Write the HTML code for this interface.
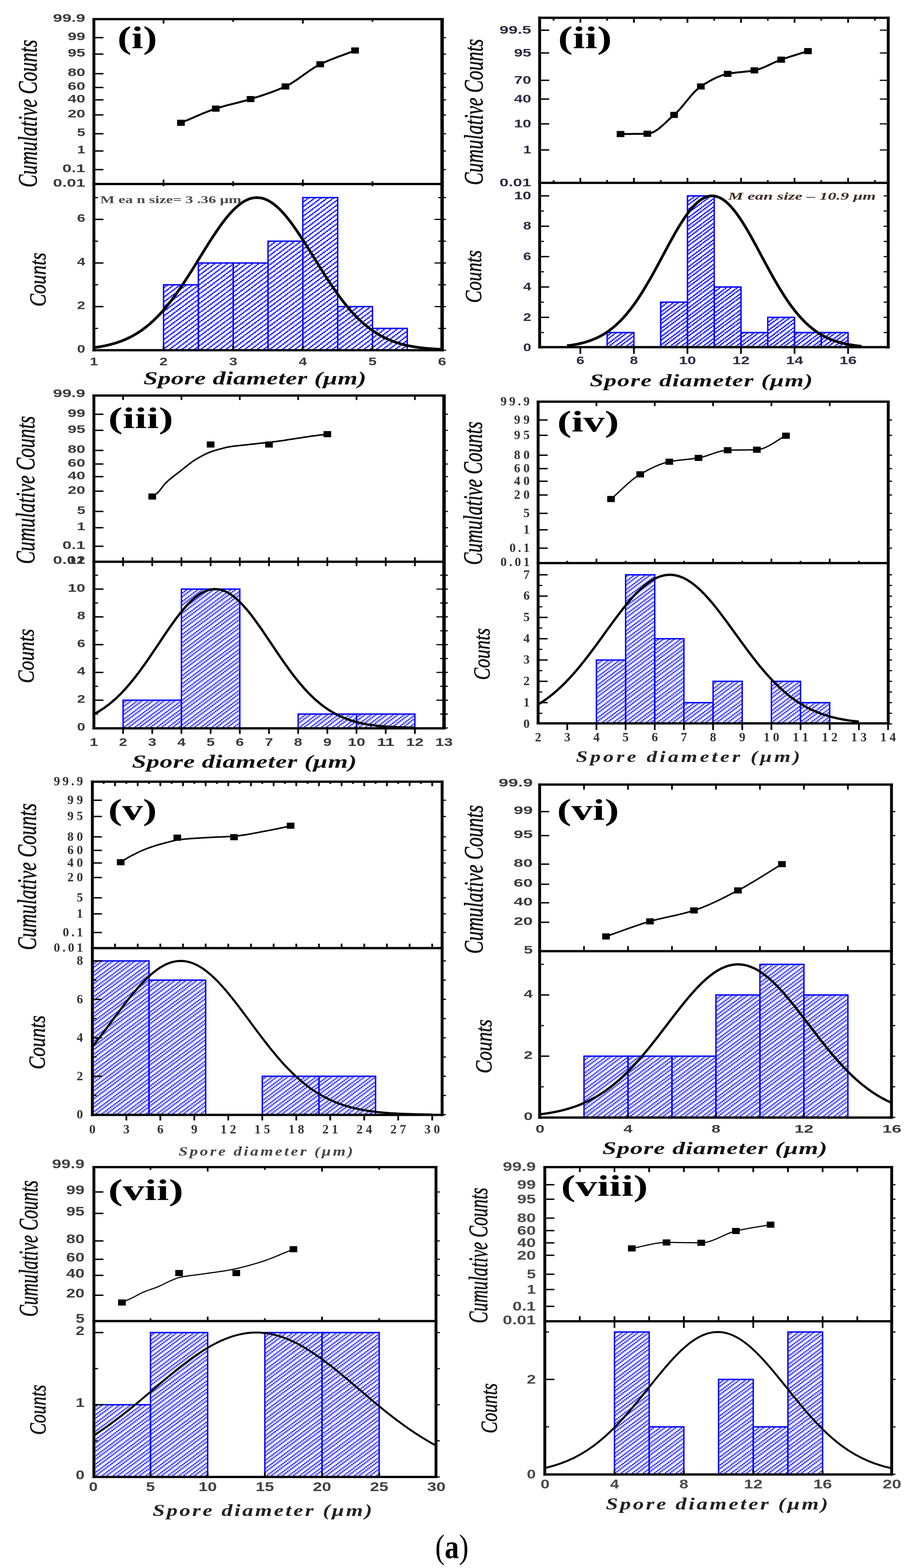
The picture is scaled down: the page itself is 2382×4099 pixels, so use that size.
<!DOCTYPE html>
<html><head><meta charset="utf-8"><title>Spore diameter distributions</title>
<style>html,body{margin:0;padding:0;background:#fff;overflow:hidden;}svg{display:block;}</style>
</head><body>
<svg width="2382" height="4099" viewBox="0 0 2382 4099"><defs><pattern id="hA4" patternUnits="userSpaceOnUse" width="16.4" height="12.3"><rect x="0" y="0" width="5" height="3.4" fill="#0000ff"/><rect x="12.3" y="3.1" width="5" height="3.4" fill="#0000ff"/><rect x="8.2" y="6.1" width="5" height="3.4" fill="#0000ff"/><rect x="4.1" y="9.2" width="5" height="3.4" fill="#0000ff"/></pattern><pattern id="hA3" patternUnits="userSpaceOnUse" width="28.7" height="21.5"><rect x="0" y="0" width="5" height="3.4" fill="#0000ff"/><rect x="12.3" y="0" width="5" height="3.4" fill="#0000ff"/><rect x="8.2" y="3.1" width="5" height="3.4" fill="#0000ff"/><rect x="24.6" y="3.1" width="5" height="3.4" fill="#0000ff"/><rect x="4.1" y="6.1" width="5" height="3.4" fill="#0000ff"/><rect x="20.5" y="6.1" width="5" height="3.4" fill="#0000ff"/><rect x="0" y="9.2" width="5" height="3.4" fill="#0000ff"/><rect x="16.4" y="9.2" width="5" height="3.4" fill="#0000ff"/><rect x="12.3" y="12.3" width="5" height="3.4" fill="#0000ff"/><rect x="24.6" y="12.3" width="5" height="3.4" fill="#0000ff"/><rect x="8.2" y="15.3" width="5" height="3.4" fill="#0000ff"/><rect x="20.5" y="15.3" width="5" height="3.4" fill="#0000ff"/><rect x="4.1" y="18.4" width="5" height="3.4" fill="#0000ff"/><rect x="16.4" y="18.4" width="5" height="3.4" fill="#0000ff"/></pattern><pattern id="hB3" patternUnits="userSpaceOnUse" width="28.7" height="21.5"><rect x="0" y="0" width="4.4" height="3.4" fill="#1414ff"/><rect x="4.1" y="0" width="4.4" height="3.4" fill="#ccccff"/><rect x="16.4" y="0" width="4.4" height="3.4" fill="#1414ff"/><rect x="20.5" y="0" width="4.4" height="3.4" fill="#ccccff"/><rect x="0" y="3.1" width="4.4" height="3.4" fill="#ccccff"/><rect x="12.3" y="3.1" width="4.4" height="3.4" fill="#1414ff"/><rect x="16.4" y="3.1" width="4.4" height="3.4" fill="#ccccff"/><rect x="24.6" y="3.1" width="4.4" height="3.4" fill="#1414ff"/><rect x="8.2" y="6.1" width="4.4" height="3.4" fill="#1414ff"/><rect x="12.3" y="6.1" width="4.4" height="3.4" fill="#ccccff"/><rect x="20.5" y="6.1" width="4.4" height="3.4" fill="#1414ff"/><rect x="24.6" y="6.1" width="4.4" height="3.4" fill="#ccccff"/><rect x="4.1" y="9.2" width="4.4" height="3.4" fill="#1414ff"/><rect x="8.2" y="9.2" width="4.4" height="3.4" fill="#ccccff"/><rect x="16.4" y="9.2" width="4.4" height="3.4" fill="#1414ff"/><rect x="20.5" y="9.2" width="4.4" height="3.4" fill="#ccccff"/><rect x="0" y="12.3" width="4.4" height="3.4" fill="#1414ff"/><rect x="4.1" y="12.3" width="4.4" height="3.4" fill="#ccccff"/><rect x="12.3" y="12.3" width="4.4" height="3.4" fill="#1414ff"/><rect x="16.4" y="12.3" width="4.4" height="3.4" fill="#ccccff"/><rect x="0" y="15.3" width="4.4" height="3.4" fill="#ccccff"/><rect x="8.2" y="15.3" width="4.4" height="3.4" fill="#1414ff"/><rect x="12.3" y="15.3" width="4.4" height="3.4" fill="#ccccff"/><rect x="24.6" y="15.3" width="4.4" height="3.4" fill="#1414ff"/><rect x="4.1" y="18.4" width="4.4" height="3.4" fill="#1414ff"/><rect x="8.2" y="18.4" width="4.4" height="3.4" fill="#ccccff"/><rect x="20.5" y="18.4" width="4.4" height="3.4" fill="#1414ff"/><rect x="24.6" y="18.4" width="4.4" height="3.4" fill="#ccccff"/></pattern><pattern id="hB7" patternUnits="userSpaceOnUse" width="12.3" height="18.4"><rect x="0" y="0" width="4.4" height="3.4" fill="#1818ff"/><rect x="4.1" y="0" width="4.4" height="3.4" fill="#c8c8ff"/><rect x="0" y="3.1" width="4.4" height="3.4" fill="#1818ff"/><rect x="8.2" y="3.1" width="4.4" height="3.4" fill="#1818ff"/><rect x="4.1" y="6.1" width="4.4" height="3.4" fill="#1818ff"/><rect x="8.2" y="6.1" width="4.4" height="3.4" fill="#c8c8ff"/><rect x="0" y="9.2" width="4.4" height="3.4" fill="#1818ff"/><rect x="4.1" y="9.2" width="4.4" height="3.4" fill="#c8c8ff"/><rect x="0" y="12.3" width="4.4" height="3.4" fill="#c8c8ff"/><rect x="8.2" y="12.3" width="4.4" height="3.4" fill="#1818ff"/><rect x="4.1" y="15.3" width="4.4" height="3.4" fill="#1818ff"/><rect x="8.2" y="15.3" width="4.4" height="3.4" fill="#c8c8ff"/></pattern></defs><rect width="2382" height="4099" fill="#fff"/><rect x="427.6" y="744.5" width="91" height="171" fill="url(#hA4)"/>
<rect x="518.6" y="687.5" width="91.1" height="228" fill="url(#hA4)"/>
<rect x="609.7" y="687.5" width="91" height="228" fill="url(#hA4)"/>
<rect x="700.8" y="630.5" width="91" height="285" fill="url(#hA4)"/>
<rect x="791.8" y="516.5" width="91.1" height="399" fill="url(#hA4)"/>
<rect x="882.9" y="801.5" width="91" height="114" fill="url(#hA4)"/>
<rect x="973.9" y="858.5" width="91" height="57" fill="url(#hA4)"/>
<rect x="427.6" y="744.5" width="91" height="171" fill="none" stroke="#0000ff" stroke-width="3.6"/>
<rect x="518.6" y="687.5" width="91.1" height="228" fill="none" stroke="#0000ff" stroke-width="3.6"/>
<rect x="609.7" y="687.5" width="91" height="228" fill="none" stroke="#0000ff" stroke-width="3.6"/>
<rect x="700.8" y="630.5" width="91" height="285" fill="none" stroke="#0000ff" stroke-width="3.6"/>
<rect x="791.8" y="516.5" width="91.1" height="399" fill="none" stroke="#0000ff" stroke-width="3.6"/>
<rect x="882.9" y="801.5" width="91" height="114" fill="none" stroke="#0000ff" stroke-width="3.6"/>
<rect x="973.9" y="858.5" width="91" height="57" fill="none" stroke="#0000ff" stroke-width="3.6"/>
<path d="M245.5 908.7 L253.1 907.6 L260.7 906.5 L268.3 905.1 L275.9 903.6 L283.4 901.9 L291 900 L298.6 897.9 L306.2 895.5 L313.8 892.9 L321.4 890 L329 886.8 L336.6 883.3 L344.1 879.5 L351.7 875.3 L359.3 870.7 L366.9 865.8 L374.5 860.4 L382.1 854.6 L389.7 848.4 L397.2 841.7 L404.8 834.6 L412.4 827 L420 819 L427.6 810.5 L435.2 801.6 L442.8 792.2 L450.4 782.4 L458 772.2 L465.5 761.5 L473.1 750.6 L480.7 739.3 L488.3 727.7 L495.9 715.9 L503.5 703.8 L511.1 691.7 L518.6 679.4 L526.2 667.1 L533.8 654.8 L541.4 642.7 L549 630.7 L556.6 618.9 L564.2 607.5 L571.8 596.4 L579.3 585.8 L586.9 575.8 L594.5 566.3 L602.1 557.5 L609.7 549.4 L617.3 542.1 L624.9 535.6 L632.5 530 L640 525.3 L647.6 521.6 L655.2 518.9 L662.8 517.2 L670.4 516.5 L678 516.9 L685.6 518.2 L693.2 520.6 L700.8 524 L708.3 528.4 L715.9 533.7 L723.5 539.9 L731.1 546.9 L738.7 554.8 L746.3 563.4 L753.9 572.7 L761.5 582.6 L769 593 L776.6 603.9 L784.2 615.2 L791.8 626.9 L799.4 638.8 L807 650.9 L814.6 663.2 L822.1 675.5 L829.7 687.7 L837.3 700 L844.9 712 L852.5 723.9 L860.1 735.6 L867.7 747 L875.3 758.1 L882.9 768.8 L890.4 779.2 L898 789.1 L905.6 798.6 L913.2 807.7 L920.8 816.3 L928.4 824.5 L936 832.2 L943.6 839.5 L951.1 846.3 L958.7 852.7 L966.3 858.6 L973.9 864.1 L981.5 869.2 L989.1 873.9 L996.7 878.2 L1004.2 882.1 L1011.8 885.7 L1019.4 889 L1027 892 L1034.6 894.7 L1042.2 897.2 L1049.8 899.3 L1057.4 901.3 L1064.9 903.1 L1072.5 904.6 L1080.1 906 L1087.7 907.3 L1095.3 908.4 L1102.9 909.3 L1110.5 910.2 L1118.1 910.9 L1125.6 911.6 L1133.2 912.1 L1140.8 912.6 L1148.4 913.1 L1156 913.4" fill="none" stroke="#000" stroke-width="7" stroke-linejoin="round"/>
<path d="M473.1 321 L478.8 318.7 L484.5 316.3 L490.2 313.9 L495.9 311.4 L501.6 309 L507.3 306.5 L513 304 L518.6 301.6 L524.3 299.2 L530 296.8 L535.7 294.5 L541.4 292.2 L547.1 290.1 L552.8 287.9 L558.5 285.9 L564.2 284 L569.9 282.2 L575.6 280.5 L581.2 278.8 L586.9 277.2 L592.6 275.7 L598.3 274.2 L604 272.8 L609.7 271.3 L615.4 269.9 L621.1 268.5 L626.8 267 L632.5 265.5 L638.2 264 L643.8 262.4 L649.5 260.7 L655.2 259 L660.9 257.2 L666.6 255.4 L672.3 253.6 L678 251.8 L683.7 250 L689.4 248.1 L695.1 246.2 L700.8 244.2 L706.4 242.2 L712.1 240.1 L717.8 238 L723.5 235.7 L729.2 233.4 L734.9 231.1 L740.6 228.6 L746.3 226 L752 223.2 L757.7 220.1 L763.3 216.7 L769 213.1 L774.7 209.3 L780.4 205.4 L786.1 201.4 L791.8 197.3 L797.5 193.2 L803.2 189.2 L808.9 185.2 L814.6 181.3 L820.3 177.6 L825.9 174.2 L831.6 170.9 L837.3 168 L843 165.3 L848.7 162.7 L854.4 160.2 L860.1 157.8 L865.8 155.5 L871.5 153.3 L877.2 151.1 L882.8 148.9 L888.5 146.8 L894.2 144.8 L899.9 142.7 L905.6 140.6 L911.3 138.5 L917 136.4 L922.7 134.2 L928.4 132" fill="none" stroke="#000" stroke-width="5" stroke-linejoin="round"/>
<rect x="463.1" y="313" width="20" height="16" fill="#000"/>
<rect x="554.2" y="276" width="20" height="16" fill="#000"/>
<rect x="645.2" y="251" width="20" height="16" fill="#000"/>
<rect x="736.3" y="218" width="20" height="16" fill="#000"/>
<rect x="827.3" y="160" width="20" height="16" fill="#000"/>
<rect x="918.4" y="124" width="20" height="16" fill="#000"/>
<text x="223" y="56.5" font-family="'Liberation Sans', Arial, sans-serif" font-size="30" font-weight="bold" font-style="normal" text-anchor="end" fill="#3a3a3a" textLength="84.5" lengthAdjust="spacingAndGlyphs">99.9</text>
<line x1="245.5" y1="98.4" x2="270.5" y2="98.4" stroke="#000" stroke-width="3.6"/>
<line x1="1156" y1="98.4" x2="1166" y2="98.4" stroke="#000" stroke-width="3"/>
<text x="223" y="104.9" font-family="'Liberation Sans', Arial, sans-serif" font-size="30" font-weight="bold" font-style="normal" text-anchor="end" fill="#3a3a3a" textLength="46" lengthAdjust="spacingAndGlyphs">99</text>
<line x1="245.5" y1="141.4" x2="270.5" y2="141.4" stroke="#000" stroke-width="3.6"/>
<line x1="1156" y1="141.4" x2="1166" y2="141.4" stroke="#000" stroke-width="3"/>
<text x="223" y="147.9" font-family="'Liberation Sans', Arial, sans-serif" font-size="30" font-weight="bold" font-style="normal" text-anchor="end" fill="#3a3a3a" textLength="46" lengthAdjust="spacingAndGlyphs">95</text>
<line x1="245.5" y1="192.6" x2="270.5" y2="192.6" stroke="#000" stroke-width="3.6"/>
<line x1="1156" y1="192.6" x2="1166" y2="192.6" stroke="#000" stroke-width="3"/>
<text x="223" y="199.1" font-family="'Liberation Sans', Arial, sans-serif" font-size="30" font-weight="bold" font-style="normal" text-anchor="end" fill="#3a3a3a" textLength="46" lengthAdjust="spacingAndGlyphs">80</text>
<line x1="245.5" y1="228.7" x2="270.5" y2="228.7" stroke="#000" stroke-width="3.6"/>
<line x1="1156" y1="228.7" x2="1166" y2="228.7" stroke="#000" stroke-width="3"/>
<text x="223" y="235.2" font-family="'Liberation Sans', Arial, sans-serif" font-size="30" font-weight="bold" font-style="normal" text-anchor="end" fill="#3a3a3a" textLength="46" lengthAdjust="spacingAndGlyphs">60</text>
<line x1="245.5" y1="261" x2="270.5" y2="261" stroke="#000" stroke-width="3.6"/>
<line x1="1156" y1="261" x2="1166" y2="261" stroke="#000" stroke-width="3"/>
<text x="223" y="267.5" font-family="'Liberation Sans', Arial, sans-serif" font-size="30" font-weight="bold" font-style="normal" text-anchor="end" fill="#3a3a3a" textLength="46" lengthAdjust="spacingAndGlyphs">40</text>
<line x1="245.5" y1="300.4" x2="270.5" y2="300.4" stroke="#000" stroke-width="3.6"/>
<line x1="1156" y1="300.4" x2="1166" y2="300.4" stroke="#000" stroke-width="3"/>
<text x="223" y="306.9" font-family="'Liberation Sans', Arial, sans-serif" font-size="30" font-weight="bold" font-style="normal" text-anchor="end" fill="#3a3a3a" textLength="46" lengthAdjust="spacingAndGlyphs">20</text>
<line x1="245.5" y1="349.6" x2="270.5" y2="349.6" stroke="#000" stroke-width="3.6"/>
<line x1="1156" y1="349.6" x2="1166" y2="349.6" stroke="#000" stroke-width="3"/>
<text x="223" y="356.1" font-family="'Liberation Sans', Arial, sans-serif" font-size="30" font-weight="bold" font-style="normal" text-anchor="end" fill="#3a3a3a" textLength="21.5" lengthAdjust="spacingAndGlyphs">5</text>
<line x1="245.5" y1="394.7" x2="270.5" y2="394.7" stroke="#000" stroke-width="3.6"/>
<line x1="1156" y1="394.7" x2="1166" y2="394.7" stroke="#000" stroke-width="3"/>
<text x="223" y="401.2" font-family="'Liberation Sans', Arial, sans-serif" font-size="30" font-weight="bold" font-style="normal" text-anchor="end" fill="#3a3a3a" textLength="21.5" lengthAdjust="spacingAndGlyphs">1</text>
<line x1="245.5" y1="443.4" x2="270.5" y2="443.4" stroke="#000" stroke-width="3.6"/>
<line x1="1156" y1="443.4" x2="1166" y2="443.4" stroke="#000" stroke-width="3"/>
<text x="223" y="449.9" font-family="'Liberation Sans', Arial, sans-serif" font-size="30" font-weight="bold" font-style="normal" text-anchor="end" fill="#3a3a3a" textLength="60" lengthAdjust="spacingAndGlyphs">0.1</text>
<text x="223" y="487.5" font-family="'Liberation Sans', Arial, sans-serif" font-size="30" font-weight="bold" font-style="normal" text-anchor="end" fill="#3a3a3a" textLength="84.5" lengthAdjust="spacingAndGlyphs">0.01</text>
<line x1="245.5" y1="915.5" x2="256.5" y2="915.5" stroke="#000" stroke-width="3"/>
<line x1="1146" y1="915.5" x2="1166" y2="915.5" stroke="#000" stroke-width="3"/>
<text x="223" y="922" font-family="'Liberation Sans', Arial, sans-serif" font-size="30" font-weight="bold" font-style="normal" text-anchor="end" fill="#3a3a3a" textLength="21.5" lengthAdjust="spacingAndGlyphs">0</text>
<line x1="245.5" y1="858.5" x2="256.5" y2="858.5" stroke="#000" stroke-width="3"/>
<line x1="1146" y1="858.5" x2="1166" y2="858.5" stroke="#000" stroke-width="3"/>
<line x1="245.5" y1="801.5" x2="270.5" y2="801.5" stroke="#000" stroke-width="3.6"/>
<line x1="1136" y1="801.5" x2="1166" y2="801.5" stroke="#000" stroke-width="3"/>
<text x="223" y="808" font-family="'Liberation Sans', Arial, sans-serif" font-size="30" font-weight="bold" font-style="normal" text-anchor="end" fill="#3a3a3a" textLength="21.5" lengthAdjust="spacingAndGlyphs">2</text>
<line x1="245.5" y1="744.5" x2="256.5" y2="744.5" stroke="#000" stroke-width="3"/>
<line x1="1146" y1="744.5" x2="1166" y2="744.5" stroke="#000" stroke-width="3"/>
<line x1="245.5" y1="687.5" x2="270.5" y2="687.5" stroke="#000" stroke-width="3.6"/>
<line x1="1136" y1="687.5" x2="1166" y2="687.5" stroke="#000" stroke-width="3"/>
<text x="223" y="694" font-family="'Liberation Sans', Arial, sans-serif" font-size="30" font-weight="bold" font-style="normal" text-anchor="end" fill="#3a3a3a" textLength="21.5" lengthAdjust="spacingAndGlyphs">4</text>
<line x1="245.5" y1="630.5" x2="256.5" y2="630.5" stroke="#000" stroke-width="3"/>
<line x1="1146" y1="630.5" x2="1166" y2="630.5" stroke="#000" stroke-width="3"/>
<line x1="245.5" y1="573.5" x2="270.5" y2="573.5" stroke="#000" stroke-width="3.6"/>
<line x1="1136" y1="573.5" x2="1166" y2="573.5" stroke="#000" stroke-width="3"/>
<text x="223" y="580" font-family="'Liberation Sans', Arial, sans-serif" font-size="30" font-weight="bold" font-style="normal" text-anchor="end" fill="#3a3a3a" textLength="21.5" lengthAdjust="spacingAndGlyphs">6</text>
<line x1="245.5" y1="516.5" x2="256.5" y2="516.5" stroke="#000" stroke-width="3"/>
<line x1="1146" y1="516.5" x2="1166" y2="516.5" stroke="#000" stroke-width="3"/>
<line x1="427.6" y1="50" x2="427.6" y2="61.6" stroke="#000" stroke-width="4.5"/>
<line x1="609.7" y1="50" x2="609.7" y2="57.2" stroke="#000" stroke-width="4.5"/>
<line x1="791.8" y1="50" x2="791.8" y2="61.6" stroke="#000" stroke-width="4.5"/>
<line x1="973.9" y1="50" x2="973.9" y2="57.2" stroke="#000" stroke-width="4.5"/>
<line x1="427.6" y1="469.4" x2="427.6" y2="486.8" stroke="#000" stroke-width="4.5"/>
<line x1="609.7" y1="473.8" x2="609.7" y2="486.8" stroke="#000" stroke-width="4.5"/>
<line x1="791.8" y1="469.4" x2="791.8" y2="486.8" stroke="#000" stroke-width="4.5"/>
<line x1="973.9" y1="473.8" x2="973.9" y2="486.8" stroke="#000" stroke-width="4.5"/>
<line x1="427.6" y1="903.9" x2="427.6" y2="915.5" stroke="#000" stroke-width="4.5"/>
<line x1="609.7" y1="903.9" x2="609.7" y2="915.5" stroke="#000" stroke-width="4.5"/>
<line x1="791.8" y1="903.9" x2="791.8" y2="915.5" stroke="#000" stroke-width="4.5"/>
<line x1="973.9" y1="903.9" x2="973.9" y2="915.5" stroke="#000" stroke-width="4.5"/>
<text x="245.5" y="955" font-family="'Liberation Sans', Arial, sans-serif" font-size="30" font-weight="bold" font-style="normal" text-anchor="middle" fill="#3a3a3a" textLength="21.5" lengthAdjust="spacingAndGlyphs">1</text>
<text x="427.6" y="955" font-family="'Liberation Sans', Arial, sans-serif" font-size="30" font-weight="bold" font-style="normal" text-anchor="middle" fill="#3a3a3a" textLength="21.5" lengthAdjust="spacingAndGlyphs">2</text>
<text x="609.7" y="955" font-family="'Liberation Sans', Arial, sans-serif" font-size="30" font-weight="bold" font-style="normal" text-anchor="middle" fill="#3a3a3a" textLength="21.5" lengthAdjust="spacingAndGlyphs">3</text>
<text x="791.8" y="955" font-family="'Liberation Sans', Arial, sans-serif" font-size="30" font-weight="bold" font-style="normal" text-anchor="middle" fill="#3a3a3a" textLength="21.5" lengthAdjust="spacingAndGlyphs">4</text>
<text x="973.9" y="955" font-family="'Liberation Sans', Arial, sans-serif" font-size="30" font-weight="bold" font-style="normal" text-anchor="middle" fill="#3a3a3a" textLength="21.5" lengthAdjust="spacingAndGlyphs">5</text>
<text x="1156" y="955" font-family="'Liberation Sans', Arial, sans-serif" font-size="30" font-weight="bold" font-style="normal" text-anchor="middle" fill="#3a3a3a" textLength="21.5" lengthAdjust="spacingAndGlyphs">6</text>
<line x1="245.5" y1="47" x2="245.5" y2="918.5" stroke="#000" stroke-width="7.5"/>
<line x1="1156" y1="47" x2="1156" y2="918.5" stroke="#000" stroke-width="9"/>
<line x1="241.8" y1="50" x2="1159.8" y2="50" stroke="#000" stroke-width="6"/>
<line x1="241.8" y1="481" x2="1159.8" y2="481" stroke="#000" stroke-width="6"/>
<line x1="241.8" y1="915.5" x2="1159.8" y2="915.5" stroke="#000" stroke-width="6"/>
<text transform="translate(96 297) rotate(-90)" x="0" y="0" font-family="'Liberation Serif', 'Times New Roman', serif" font-size="70" font-weight="normal" font-style="italic" text-anchor="middle" fill="#111" stroke="#111" stroke-width="1" textLength="386" lengthAdjust="spacingAndGlyphs">Cumulative Counts</text>
<text transform="translate(119 731) rotate(-90)" x="0" y="0" font-family="'Liberation Serif', 'Times New Roman', serif" font-size="62" font-weight="normal" font-style="italic" text-anchor="middle" fill="#111" stroke="#111" stroke-width="1" textLength="141" lengthAdjust="spacingAndGlyphs">Counts</text>
<text transform="translate(375 1005) scale(1.4 1)" x="0" y="0" font-family="'Liberation Serif', 'Times New Roman', serif" font-size="48" font-weight="bold" font-style="italic" fill="#111" textLength="416.4" lengthAdjust="spacing">Spore diameter (μm)</text>
<text x="307" y="126" font-family="'Liberation Serif', 'Times New Roman', serif" font-size="82" font-weight="bold" font-style="normal" text-anchor="start" fill="#000" textLength="104" lengthAdjust="spacingAndGlyphs">(i)</text>
<text x="262" y="531" font-family="'Liberation Serif', 'Times New Roman', serif" font-size="27" font-weight="bold" font-style="normal" text-anchor="start" fill="#4a4a4a" textLength="369" lengthAdjust="spacingAndGlyphs">M ea n  size= 3 .36  μm</text>
<rect x="1587.5" y="869.3" width="70" height="38.2" fill="url(#hA3)"/>
<rect x="1727.5" y="789.9" width="70" height="117.6" fill="url(#hA3)"/>
<rect x="1797.5" y="512" width="70" height="395.5" fill="url(#hA3)"/>
<rect x="1867.5" y="750.2" width="70" height="157.3" fill="url(#hA3)"/>
<rect x="1937.5" y="869.3" width="70" height="38.2" fill="url(#hA3)"/>
<rect x="2007.5" y="829.6" width="70" height="77.9" fill="url(#hA3)"/>
<rect x="2077.5" y="869.3" width="70" height="38.2" fill="url(#hA3)"/>
<rect x="2147.5" y="869.3" width="70" height="38.2" fill="url(#hA3)"/>
<rect x="1587.5" y="869.3" width="70" height="38.2" fill="none" stroke="#0000ff" stroke-width="3.6"/>
<rect x="1727.5" y="789.9" width="70" height="117.6" fill="none" stroke="#0000ff" stroke-width="3.6"/>
<rect x="1797.5" y="512" width="70" height="395.5" fill="none" stroke="#0000ff" stroke-width="3.6"/>
<rect x="1867.5" y="750.2" width="70" height="157.3" fill="none" stroke="#0000ff" stroke-width="3.6"/>
<rect x="1937.5" y="869.3" width="70" height="38.2" fill="none" stroke="#0000ff" stroke-width="3.6"/>
<rect x="2007.5" y="829.6" width="70" height="77.9" fill="none" stroke="#0000ff" stroke-width="3.6"/>
<rect x="2077.5" y="869.3" width="70" height="38.2" fill="none" stroke="#0000ff" stroke-width="3.6"/>
<rect x="2147.5" y="869.3" width="70" height="38.2" fill="none" stroke="#0000ff" stroke-width="3.6"/>
<path d="M1482.5 903.8 L1488.9 903 L1495.3 902.1 L1501.8 901 L1508.2 899.9 L1514.6 898.5 L1521 897 L1527.4 895.4 L1533.8 893.5 L1540.2 891.4 L1546.7 889.1 L1553.1 886.6 L1559.5 883.8 L1565.9 880.7 L1572.3 877.3 L1578.8 873.6 L1585.2 869.5 L1591.6 865.1 L1598 860.3 L1604.4 855.2 L1610.8 849.6 L1617.2 843.6 L1623.7 837.2 L1630.1 830.4 L1636.5 823.1 L1642.9 815.4 L1649.3 807.3 L1655.8 798.7 L1662.2 789.7 L1668.6 780.3 L1675 770.5 L1681.4 760.3 L1687.8 749.7 L1694.2 738.8 L1700.7 727.7 L1707.1 716.2 L1713.5 704.6 L1719.9 692.8 L1726.3 680.8 L1732.8 668.9 L1739.2 656.9 L1745.6 644.9 L1752 633.1 L1758.4 621.5 L1764.8 610.1 L1771.2 599.1 L1777.7 588.4 L1784.1 578.2 L1790.5 568.5 L1796.9 559.4 L1803.3 551 L1809.8 543.2 L1816.2 536.3 L1822.6 530.1 L1829 524.7 L1835.4 520.3 L1841.8 516.8 L1848.2 514.2 L1854.7 512.6 L1861.1 512 L1867.5 512.4 L1873.9 513.7 L1880.3 516 L1886.8 519.3 L1893.2 523.5 L1899.6 528.6 L1906 534.6 L1912.4 541.4 L1918.8 549 L1925.2 557.2 L1931.7 566.2 L1938.1 575.7 L1944.5 585.8 L1950.9 596.3 L1957.3 607.3 L1963.8 618.6 L1970.2 630.2 L1976.6 641.9 L1983 653.8 L1989.4 665.8 L1995.8 677.8 L2002.2 689.7 L2008.7 701.6 L2015.1 713.3 L2021.5 724.8 L2027.9 736 L2034.3 747 L2040.8 757.6 L2047.2 767.9 L2053.6 777.8 L2060 787.4 L2066.4 796.5 L2072.8 805.2 L2079.2 813.4 L2085.7 821.2 L2092.1 828.6 L2098.5 835.5 L2104.9 842 L2111.3 848.1 L2117.8 853.8 L2124.2 859.1 L2130.6 863.9 L2137 868.4 L2143.4 872.6 L2149.8 876.4 L2156.2 879.8 L2162.7 883 L2169.1 885.9 L2175.5 888.5 L2181.9 890.9 L2188.3 893 L2194.8 894.9 L2201.2 896.6 L2207.6 898.2 L2214 899.5 L2220.4 900.8 L2226.8 901.8 L2233.2 902.8 L2239.7 903.6 L2246.1 904.4 L2252.5 905" fill="none" stroke="#000" stroke-width="7" stroke-linejoin="round"/>
<path d="M1622.5 350.4 L1626.9 350.4 L1631.2 350.3 L1635.6 350.3 L1640 350.2 L1644.4 350.2 L1648.8 350.2 L1653.1 350.1 L1657.5 350.1 L1661.9 350.1 L1666.2 350 L1670.6 350 L1675 349.9 L1679.4 349.8 L1683.8 349.8 L1688.1 349.7 L1692.5 349.6 L1696.9 349.2 L1701.2 348.1 L1705.6 346.6 L1710 344.5 L1714.4 341.9 L1718.8 339 L1723.1 335.7 L1727.5 332.2 L1731.9 328.4 L1736.2 324.5 L1740.6 320.5 L1745 316.3 L1749.4 312.2 L1753.8 308.2 L1758.1 304.2 L1762.5 300.4 L1766.9 296.5 L1771.2 292.2 L1775.6 287.5 L1780 282.6 L1784.4 277.5 L1788.8 272.2 L1793.1 266.9 L1797.5 261.5 L1801.9 256.2 L1806.2 251 L1810.6 246 L1815 241.3 L1819.4 236.8 L1823.8 232.8 L1828.1 229.1 L1832.5 226 L1836.9 223.2 L1841.2 220.4 L1845.6 217.7 L1850 215.1 L1854.4 212.5 L1858.8 210.1 L1863.1 207.8 L1867.5 205.6 L1871.9 203.5 L1876.2 201.5 L1880.6 199.7 L1885 198 L1889.4 196.5 L1893.8 195.1 L1898.1 194 L1902.5 193 L1906.9 192.2 L1911.2 191.4 L1915.6 190.8 L1920 190.2 L1924.4 189.7 L1928.8 189.3 L1933.1 188.8 L1937.5 188.4 L1941.9 188 L1946.2 187.6 L1950.6 187.1 L1955 186.7 L1959.4 186.1 L1963.8 185.5 L1968.1 184.8 L1972.5 184 L1976.9 183 L1981.2 181.8 L1985.6 180.4 L1990 178.9 L1994.4 177.2 L1998.8 175.3 L2003.1 173.4 L2007.5 171.4 L2011.9 169.4 L2016.2 167.3 L2020.6 165.3 L2025 163.2 L2029.4 161.3 L2033.8 159.4 L2038.1 157.6 L2042.5 156 L2046.9 154.5 L2051.2 153 L2055.6 151.5 L2060 150.1 L2064.4 148.6 L2068.8 147.2 L2073.1 145.9 L2077.5 144.5 L2081.9 143.1 L2086.2 141.8 L2090.6 140.4 L2095 139.1 L2099.4 137.7 L2103.8 136.4 L2108.1 135 L2112.5 133.6" fill="none" stroke="#000" stroke-width="5" stroke-linejoin="round"/>
<rect x="1612.5" y="342.4" width="20" height="16" fill="#000"/>
<rect x="1682.5" y="341.6" width="20" height="16" fill="#000"/>
<rect x="1752.5" y="292.4" width="20" height="16" fill="#000"/>
<rect x="1822.5" y="218" width="20" height="16" fill="#000"/>
<rect x="1892.5" y="185" width="20" height="16" fill="#000"/>
<rect x="1962.5" y="176" width="20" height="16" fill="#000"/>
<rect x="2032.5" y="148" width="20" height="16" fill="#000"/>
<rect x="2102.5" y="125.6" width="20" height="16" fill="#000"/>
<line x1="1411" y1="79" x2="1436" y2="79" stroke="#000" stroke-width="3.6"/>
<line x1="2300.5" y1="79" x2="2326.5" y2="79" stroke="#000" stroke-width="3"/>
<text x="1389" y="88" font-family="'Liberation Sans', Arial, sans-serif" font-size="30" font-weight="bold" font-style="normal" text-anchor="end" fill="#2a2a44" textLength="83" lengthAdjust="spacingAndGlyphs">99.5</text>
<line x1="1411" y1="138.5" x2="1436" y2="138.5" stroke="#000" stroke-width="3.6"/>
<line x1="2300.5" y1="138.5" x2="2326.5" y2="138.5" stroke="#000" stroke-width="3"/>
<text x="1389" y="147.5" font-family="'Liberation Sans', Arial, sans-serif" font-size="30" font-weight="bold" font-style="normal" text-anchor="end" fill="#2a2a44" textLength="45" lengthAdjust="spacingAndGlyphs">95</text>
<line x1="1411" y1="210" x2="1436" y2="210" stroke="#000" stroke-width="3.6"/>
<line x1="2300.5" y1="210" x2="2326.5" y2="210" stroke="#000" stroke-width="3"/>
<text x="1389" y="219" font-family="'Liberation Sans', Arial, sans-serif" font-size="30" font-weight="bold" font-style="normal" text-anchor="end" fill="#2a2a44" textLength="45" lengthAdjust="spacingAndGlyphs">70</text>
<line x1="1411" y1="259" x2="1436" y2="259" stroke="#000" stroke-width="3.6"/>
<line x1="2300.5" y1="259" x2="2326.5" y2="259" stroke="#000" stroke-width="3"/>
<text x="1389" y="268" font-family="'Liberation Sans', Arial, sans-serif" font-size="30" font-weight="bold" font-style="normal" text-anchor="end" fill="#2a2a44" textLength="45" lengthAdjust="spacingAndGlyphs">40</text>
<line x1="1411" y1="323.8" x2="1436" y2="323.8" stroke="#000" stroke-width="3.6"/>
<line x1="2300.5" y1="323.8" x2="2326.5" y2="323.8" stroke="#000" stroke-width="3"/>
<text x="1389" y="332.8" font-family="'Liberation Sans', Arial, sans-serif" font-size="30" font-weight="bold" font-style="normal" text-anchor="end" fill="#2a2a44" textLength="45" lengthAdjust="spacingAndGlyphs">10</text>
<line x1="1411" y1="392" x2="1436" y2="392" stroke="#000" stroke-width="3.6"/>
<line x1="2300.5" y1="392" x2="2326.5" y2="392" stroke="#000" stroke-width="3"/>
<text x="1389" y="401" font-family="'Liberation Sans', Arial, sans-serif" font-size="30" font-weight="bold" font-style="normal" text-anchor="end" fill="#2a2a44" textLength="21" lengthAdjust="spacingAndGlyphs">1</text>
<text x="1389" y="486.5" font-family="'Liberation Sans', Arial, sans-serif" font-size="30" font-weight="bold" font-style="normal" text-anchor="end" fill="#2a2a44" textLength="83" lengthAdjust="spacingAndGlyphs">0.01</text>
<line x1="1411" y1="909" x2="1422" y2="909" stroke="#000" stroke-width="3"/>
<line x1="2310.5" y1="909" x2="2326.5" y2="909" stroke="#000" stroke-width="3"/>
<text x="1389" y="918" font-family="'Liberation Sans', Arial, sans-serif" font-size="30" font-weight="bold" font-style="normal" text-anchor="end" fill="#2a2a44" textLength="21" lengthAdjust="spacingAndGlyphs">0</text>
<line x1="1411" y1="869.3" x2="1422" y2="869.3" stroke="#000" stroke-width="3"/>
<line x1="2310.5" y1="869.3" x2="2326.5" y2="869.3" stroke="#000" stroke-width="3"/>
<line x1="1411" y1="829.6" x2="1436" y2="829.6" stroke="#000" stroke-width="3.6"/>
<line x1="2310.5" y1="829.6" x2="2326.5" y2="829.6" stroke="#000" stroke-width="3"/>
<text x="1389" y="838.6" font-family="'Liberation Sans', Arial, sans-serif" font-size="30" font-weight="bold" font-style="normal" text-anchor="end" fill="#2a2a44" textLength="21" lengthAdjust="spacingAndGlyphs">2</text>
<line x1="1411" y1="789.9" x2="1422" y2="789.9" stroke="#000" stroke-width="3"/>
<line x1="2310.5" y1="789.9" x2="2326.5" y2="789.9" stroke="#000" stroke-width="3"/>
<line x1="1411" y1="750.2" x2="1436" y2="750.2" stroke="#000" stroke-width="3.6"/>
<line x1="2310.5" y1="750.2" x2="2326.5" y2="750.2" stroke="#000" stroke-width="3"/>
<text x="1389" y="759.2" font-family="'Liberation Sans', Arial, sans-serif" font-size="30" font-weight="bold" font-style="normal" text-anchor="end" fill="#2a2a44" textLength="21" lengthAdjust="spacingAndGlyphs">4</text>
<line x1="1411" y1="710.5" x2="1422" y2="710.5" stroke="#000" stroke-width="3"/>
<line x1="2310.5" y1="710.5" x2="2326.5" y2="710.5" stroke="#000" stroke-width="3"/>
<line x1="1411" y1="670.8" x2="1436" y2="670.8" stroke="#000" stroke-width="3.6"/>
<line x1="2310.5" y1="670.8" x2="2326.5" y2="670.8" stroke="#000" stroke-width="3"/>
<text x="1389" y="679.8" font-family="'Liberation Sans', Arial, sans-serif" font-size="30" font-weight="bold" font-style="normal" text-anchor="end" fill="#2a2a44" textLength="21" lengthAdjust="spacingAndGlyphs">6</text>
<line x1="1411" y1="631.1" x2="1422" y2="631.1" stroke="#000" stroke-width="3"/>
<line x1="2310.5" y1="631.1" x2="2326.5" y2="631.1" stroke="#000" stroke-width="3"/>
<line x1="1411" y1="591.4" x2="1436" y2="591.4" stroke="#000" stroke-width="3.6"/>
<line x1="2310.5" y1="591.4" x2="2326.5" y2="591.4" stroke="#000" stroke-width="3"/>
<text x="1389" y="600.4" font-family="'Liberation Sans', Arial, sans-serif" font-size="30" font-weight="bold" font-style="normal" text-anchor="end" fill="#2a2a44" textLength="21" lengthAdjust="spacingAndGlyphs">8</text>
<line x1="1411" y1="551.7" x2="1422" y2="551.7" stroke="#000" stroke-width="3"/>
<line x1="2310.5" y1="551.7" x2="2326.5" y2="551.7" stroke="#000" stroke-width="3"/>
<line x1="1411" y1="512" x2="1436" y2="512" stroke="#000" stroke-width="3.6"/>
<line x1="2310.5" y1="512" x2="2326.5" y2="512" stroke="#000" stroke-width="3"/>
<text x="1389" y="521" font-family="'Liberation Sans', Arial, sans-serif" font-size="30" font-weight="bold" font-style="normal" text-anchor="end" fill="#2a2a44" textLength="45" lengthAdjust="spacingAndGlyphs">10</text>
<line x1="1447.5" y1="46.5" x2="1447.5" y2="53.8" stroke="#000" stroke-width="4.5"/>
<line x1="1517.5" y1="46.5" x2="1517.5" y2="59.5" stroke="#000" stroke-width="4.5"/>
<line x1="1587.5" y1="46.5" x2="1587.5" y2="53.8" stroke="#000" stroke-width="4.5"/>
<line x1="1657.5" y1="46.5" x2="1657.5" y2="59.5" stroke="#000" stroke-width="4.5"/>
<line x1="1727.5" y1="46.5" x2="1727.5" y2="53.8" stroke="#000" stroke-width="4.5"/>
<line x1="1797.5" y1="46.5" x2="1797.5" y2="59.5" stroke="#000" stroke-width="4.5"/>
<line x1="1867.5" y1="46.5" x2="1867.5" y2="53.8" stroke="#000" stroke-width="4.5"/>
<line x1="1937.5" y1="46.5" x2="1937.5" y2="59.5" stroke="#000" stroke-width="4.5"/>
<line x1="2007.5" y1="46.5" x2="2007.5" y2="53.8" stroke="#000" stroke-width="4.5"/>
<line x1="2077.5" y1="46.5" x2="2077.5" y2="59.5" stroke="#000" stroke-width="4.5"/>
<line x1="2147.5" y1="46.5" x2="2147.5" y2="53.8" stroke="#000" stroke-width="4.5"/>
<line x1="2217.5" y1="46.5" x2="2217.5" y2="59.5" stroke="#000" stroke-width="4.5"/>
<line x1="2287.5" y1="46.5" x2="2287.5" y2="53.8" stroke="#000" stroke-width="4.5"/>
<line x1="1447.5" y1="470.8" x2="1447.5" y2="478" stroke="#000" stroke-width="4.5"/>
<line x1="1517.5" y1="464.9" x2="1517.5" y2="478" stroke="#000" stroke-width="4.5"/>
<line x1="1587.5" y1="470.8" x2="1587.5" y2="478" stroke="#000" stroke-width="4.5"/>
<line x1="1657.5" y1="464.9" x2="1657.5" y2="478" stroke="#000" stroke-width="4.5"/>
<line x1="1727.5" y1="470.8" x2="1727.5" y2="478" stroke="#000" stroke-width="4.5"/>
<line x1="1797.5" y1="464.9" x2="1797.5" y2="478" stroke="#000" stroke-width="4.5"/>
<line x1="1867.5" y1="470.8" x2="1867.5" y2="478" stroke="#000" stroke-width="4.5"/>
<line x1="1937.5" y1="464.9" x2="1937.5" y2="478" stroke="#000" stroke-width="4.5"/>
<line x1="2007.5" y1="470.8" x2="2007.5" y2="478" stroke="#000" stroke-width="4.5"/>
<line x1="2077.5" y1="464.9" x2="2077.5" y2="478" stroke="#000" stroke-width="4.5"/>
<line x1="2147.5" y1="470.8" x2="2147.5" y2="478" stroke="#000" stroke-width="4.5"/>
<line x1="2217.5" y1="464.9" x2="2217.5" y2="478" stroke="#000" stroke-width="4.5"/>
<line x1="2287.5" y1="470.8" x2="2287.5" y2="478" stroke="#000" stroke-width="4.5"/>
<line x1="1517.5" y1="907.5" x2="1517.5" y2="924.9" stroke="#000" stroke-width="4.5"/>
<line x1="1657.5" y1="907.5" x2="1657.5" y2="924.9" stroke="#000" stroke-width="4.5"/>
<line x1="1797.5" y1="907.5" x2="1797.5" y2="924.9" stroke="#000" stroke-width="4.5"/>
<line x1="1937.5" y1="907.5" x2="1937.5" y2="924.9" stroke="#000" stroke-width="4.5"/>
<line x1="2077.5" y1="907.5" x2="2077.5" y2="924.9" stroke="#000" stroke-width="4.5"/>
<line x1="2217.5" y1="907.5" x2="2217.5" y2="924.9" stroke="#000" stroke-width="4.5"/>
<text x="1517.5" y="952" font-family="'Liberation Sans', Arial, sans-serif" font-size="30" font-weight="bold" font-style="normal" text-anchor="middle" fill="#2a2a44" textLength="21" lengthAdjust="spacingAndGlyphs">6</text>
<text x="1657.5" y="952" font-family="'Liberation Sans', Arial, sans-serif" font-size="30" font-weight="bold" font-style="normal" text-anchor="middle" fill="#2a2a44" textLength="21" lengthAdjust="spacingAndGlyphs">8</text>
<text x="1797.5" y="952" font-family="'Liberation Sans', Arial, sans-serif" font-size="30" font-weight="bold" font-style="normal" text-anchor="middle" fill="#2a2a44" textLength="45" lengthAdjust="spacingAndGlyphs">10</text>
<text x="1937.5" y="952" font-family="'Liberation Sans', Arial, sans-serif" font-size="30" font-weight="bold" font-style="normal" text-anchor="middle" fill="#2a2a44" textLength="45" lengthAdjust="spacingAndGlyphs">12</text>
<text x="2077.5" y="952" font-family="'Liberation Sans', Arial, sans-serif" font-size="30" font-weight="bold" font-style="normal" text-anchor="middle" fill="#2a2a44" textLength="45" lengthAdjust="spacingAndGlyphs">14</text>
<text x="2217.5" y="952" font-family="'Liberation Sans', Arial, sans-serif" font-size="30" font-weight="bold" font-style="normal" text-anchor="middle" fill="#2a2a44" textLength="45" lengthAdjust="spacingAndGlyphs">16</text>
<line x1="1411" y1="43.5" x2="1411" y2="910.5" stroke="#000" stroke-width="7.5"/>
<line x1="2322.5" y1="43.5" x2="2322.5" y2="910.5" stroke="#000" stroke-width="7.5"/>
<line x1="1407.2" y1="46.5" x2="2326.2" y2="46.5" stroke="#000" stroke-width="6"/>
<line x1="1407.2" y1="478" x2="2326.2" y2="478" stroke="#000" stroke-width="6"/>
<line x1="1407.2" y1="907.5" x2="2326.2" y2="907.5" stroke="#000" stroke-width="6"/>
<text transform="translate(1262 293) rotate(-90)" x="0" y="0" font-family="'Liberation Serif', 'Times New Roman', serif" font-size="70" font-weight="normal" font-style="italic" text-anchor="middle" fill="#111" stroke="#111" stroke-width="1" textLength="382" lengthAdjust="spacingAndGlyphs">Cumulative Counts</text>
<text transform="translate(1258 723) rotate(-90)" x="0" y="0" font-family="'Liberation Serif', 'Times New Roman', serif" font-size="62" font-weight="normal" font-style="italic" text-anchor="middle" fill="#111" stroke="#111" stroke-width="1" textLength="138" lengthAdjust="spacingAndGlyphs">Counts</text>
<text transform="translate(1542 1010) scale(1.4 1)" x="0" y="0" font-family="'Liberation Serif', 'Times New Roman', serif" font-size="46" font-weight="bold" font-style="italic" fill="#111" textLength="416.4" lengthAdjust="spacing">Spore diameter (μm)</text>
<text x="1459" y="126" font-family="'Liberation Serif', 'Times New Roman', serif" font-size="82" font-weight="bold" font-style="normal" text-anchor="start" fill="#000" textLength="141" lengthAdjust="spacingAndGlyphs">(ii)</text>
<text x="1904" y="522" font-family="'Liberation Serif', 'Times New Roman', serif" font-size="27" font-weight="bold" font-style="italic" text-anchor="start" fill="#3d2b1f" textLength="386" lengthAdjust="spacingAndGlyphs">M ean  size  –  10.9  μm</text>
<rect x="321.8" y="1830.4" width="152.6" height="73.6" fill="url(#hB3)"/>
<rect x="474.4" y="1540" width="152.6" height="364" fill="url(#hB3)"/>
<rect x="779.6" y="1866.7" width="152.6" height="37.3" fill="url(#hB3)"/>
<rect x="932.2" y="1866.7" width="152.6" height="37.3" fill="url(#hB3)"/>
<rect x="321.8" y="1830.4" width="152.6" height="73.6" fill="none" stroke="#0000ff" stroke-width="3.6"/>
<rect x="474.4" y="1540" width="152.6" height="364" fill="none" stroke="#0000ff" stroke-width="3.6"/>
<rect x="779.6" y="1866.7" width="152.6" height="37.3" fill="none" stroke="#0000ff" stroke-width="3.6"/>
<rect x="932.2" y="1866.7" width="152.6" height="37.3" fill="none" stroke="#0000ff" stroke-width="3.6"/>
<path d="M245.5 1867 L252.5 1863.2 L259.5 1859.1 L266.5 1854.6 L273.5 1849.9 L280.5 1844.7 L287.5 1839.3 L294.5 1833.4 L301.5 1827.3 L308.4 1820.7 L315.4 1813.8 L322.4 1806.5 L329.4 1798.9 L336.4 1790.9 L343.4 1782.5 L350.4 1773.9 L357.4 1764.9 L364.4 1755.7 L371.4 1746.1 L378.4 1736.4 L385.4 1726.4 L392.4 1716.2 L399.4 1705.9 L406.4 1695.6 L413.4 1685.1 L420.4 1674.7 L427.3 1664.2 L434.3 1653.9 L441.3 1643.7 L448.3 1633.7 L455.3 1624 L462.3 1614.5 L469.3 1605.4 L476.3 1596.7 L483.3 1588.5 L490.3 1580.7 L497.3 1573.6 L504.3 1567 L511.3 1561 L518.3 1555.8 L525.3 1551.2 L532.3 1547.4 L539.3 1544.4 L546.2 1542.1 L553.2 1540.7 L560.2 1540 L567.2 1540.2 L574.2 1541.2 L581.2 1543 L588.2 1545.6 L595.2 1549 L602.2 1553.2 L609.2 1558.1 L616.2 1563.6 L623.2 1569.9 L630.2 1576.7 L637.2 1584.2 L644.2 1592.2 L651.2 1600.6 L658.2 1609.5 L665.1 1618.8 L672.1 1628.4 L679.1 1638.2 L686.1 1648.3 L693.1 1658.6 L700.1 1669 L707.1 1679.4 L714.1 1689.9 L721.1 1700.3 L728.1 1710.6 L735.1 1720.9 L742.1 1730.9 L749.1 1740.8 L756.1 1750.5 L763.1 1759.9 L770.1 1769 L777.1 1777.9 L784.1 1786.4 L791 1794.5 L798 1802.4 L805 1809.9 L812 1817 L819 1823.7 L826 1830.1 L833 1836.1 L840 1841.8 L847 1847.1 L854 1852.1 L861 1856.7 L868 1861 L875 1865 L882 1868.7 L889 1872.1 L896 1875.2 L903 1878.1 L909.9 1880.7 L916.9 1883.1 L923.9 1885.2 L930.9 1887.2 L937.9 1889 L944.9 1890.6 L951.9 1892.1 L958.9 1893.4 L965.9 1894.5 L972.9 1895.6 L979.9 1896.5 L986.9 1897.3 L993.9 1898.1 L1000.9 1898.7 L1007.9 1899.3 L1014.9 1899.8 L1021.9 1900.2 L1028.8 1900.6 L1035.8 1900.9 L1042.8 1901.2 L1049.8 1901.5 L1056.8 1901.7 L1063.8 1901.9 L1070.8 1902.1 L1077.8 1902.2 L1084.8 1902.3" fill="none" stroke="#000" stroke-width="6" stroke-linejoin="round"/>
<path d="M397 1298 L397.8 1297.5 L398.6 1297 L399.4 1296.6 L400.2 1296.1 L401.1 1295.6 L401.9 1295.2 L402.7 1294.7 L403.5 1294.3 L404.3 1293.8 L405.1 1293.3 L405.9 1292.8 L406.8 1292.3 L407.6 1291.8 L408.4 1291.2 L409.2 1290.6 L410 1290 L411.5 1288.7 L413 1287.3 L414.5 1285.8 L416 1284.1 L417.5 1282.3 L419 1280.4 L420.5 1278.5 L422 1276.6 L423.5 1274.6 L425 1272.6 L426.5 1270.7 L428 1268.8 L429.5 1266.9 L431 1265.2 L432.5 1263.5 L434 1262 L436.3 1259.8 L438.7 1257.6 L441 1255.5 L443.4 1253.5 L445.7 1251.5 L448.1 1249.6 L450.4 1247.7 L452.8 1245.9 L455.1 1244 L457.4 1242.2 L459.8 1240.5 L462.1 1238.7 L464.5 1236.9 L466.8 1235.1 L469.2 1233.3 L471.5 1231.5 L474 1229.5 L476.6 1227.5 L479.1 1225.5 L481.6 1223.4 L484.2 1221.4 L486.7 1219.4 L489.2 1217.4 L491.8 1215.4 L494.3 1213.4 L496.8 1211.5 L499.3 1209.6 L501.9 1207.7 L504.4 1206 L506.9 1204.2 L509.5 1202.6 L512 1201 L514.3 1199.6 L516.6 1198.2 L518.9 1196.9 L521.2 1195.5 L523.6 1194.2 L525.9 1192.9 L528.2 1191.7 L530.5 1190.4 L532.8 1189.2 L535.1 1188.1 L537.4 1187 L539.8 1185.9 L542.1 1184.8 L544.4 1183.9 L546.7 1182.9 L549 1182 L551.1 1181.2 L553.1 1180.5 L555.2 1179.8 L557.2 1179.1 L559.3 1178.4 L561.4 1177.7 L563.4 1177.1 L565.5 1176.5 L567.6 1175.9 L569.6 1175.3 L571.7 1174.7 L573.8 1174.1 L575.8 1173.6 L577.9 1173.1 L579.9 1172.5 L582 1172 L583.1 1171.7 L584.2 1171.4 L585.4 1171.2 L586.5 1170.9 L587.6 1170.6 L588.8 1170.3 L589.9 1170.1 L591 1169.8 L592.1 1169.5 L593.2 1169.3 L594.4 1169.1 L595.5 1168.8 L596.6 1168.6 L597.8 1168.4 L598.9 1168.2 L600 1168 L603.2 1167.5 L606.4 1167 L609.6 1166.6 L612.8 1166.2 L615.9 1165.8 L619.1 1165.4 L622.3 1165 L625.5 1164.7 L628.7 1164.4 L631.9 1164 L635.1 1163.7 L638.2 1163.4 L641.4 1163 L644.6 1162.7 L647.8 1162.4 L651 1162 L655.5 1161.5 L660 1161 L664.5 1160.5 L669 1160 L673.5 1159.6 L678 1159.1 L682.5 1158.6 L687 1158.1 L691.5 1157.7 L696 1157.2 L700.5 1156.7 L705 1156.2 L709.5 1155.7 L714 1155.1 L718.5 1154.6 L723 1154 L726.3 1153.6 L729.6 1153.1 L732.9 1152.6 L736.2 1152.2 L739.6 1151.7 L742.9 1151.2 L746.2 1150.7 L749.5 1150.1 L752.8 1149.6 L756.1 1149.1 L759.4 1148.6 L762.8 1148 L766.1 1147.5 L769.4 1147 L772.7 1146.5 L776 1146 L778.9 1145.6 L781.9 1145.1 L784.8 1144.7 L787.8 1144.2 L790.7 1143.8 L793.6 1143.3 L796.6 1142.8 L799.5 1142.4 L802.4 1142 L805.4 1141.5 L808.3 1141.1 L811.2 1140.6 L814.2 1140.2 L817.1 1139.8 L820.1 1139.4 L823 1139 L825.1 1138.7 L827.1 1138.5 L829.2 1138.2 L831.2 1137.9 L833.3 1137.7 L835.4 1137.4 L837.4 1137.2 L839.5 1137 L841.6 1136.7 L843.6 1136.5 L845.7 1136.2 L847.8 1136 L849.8 1135.7 L851.9 1135.5 L853.9 1135.2 L856 1135" fill="none" stroke="#000" stroke-width="4" stroke-linejoin="round"/>
<rect x="388.1" y="1290" width="20" height="16" fill="#000"/>
<rect x="540.7" y="1154" width="20" height="16" fill="#000"/>
<rect x="693.3" y="1154" width="20" height="16" fill="#000"/>
<rect x="845.9" y="1127" width="20" height="16" fill="#000"/>
<text x="223" y="1037.5" font-family="'Liberation Sans', Arial, sans-serif" font-size="30" font-weight="bold" font-style="normal" text-anchor="end" fill="#3a3a3a" textLength="84.5" lengthAdjust="spacingAndGlyphs">99.9</text>
<line x1="245.5" y1="1083" x2="270.5" y2="1083" stroke="#000" stroke-width="3.6"/>
<line x1="1161" y1="1083" x2="1171" y2="1083" stroke="#000" stroke-width="3"/>
<text x="223" y="1089.5" font-family="'Liberation Sans', Arial, sans-serif" font-size="30" font-weight="bold" font-style="normal" text-anchor="end" fill="#3a3a3a" textLength="46" lengthAdjust="spacingAndGlyphs">99</text>
<line x1="245.5" y1="1125" x2="270.5" y2="1125" stroke="#000" stroke-width="3.6"/>
<line x1="1161" y1="1125" x2="1171" y2="1125" stroke="#000" stroke-width="3"/>
<text x="223" y="1131.5" font-family="'Liberation Sans', Arial, sans-serif" font-size="30" font-weight="bold" font-style="normal" text-anchor="end" fill="#3a3a3a" textLength="46" lengthAdjust="spacingAndGlyphs">95</text>
<line x1="245.5" y1="1177.5" x2="270.5" y2="1177.5" stroke="#000" stroke-width="3.6"/>
<line x1="1161" y1="1177.5" x2="1171" y2="1177.5" stroke="#000" stroke-width="3"/>
<text x="223" y="1184" font-family="'Liberation Sans', Arial, sans-serif" font-size="30" font-weight="bold" font-style="normal" text-anchor="end" fill="#3a3a3a" textLength="46" lengthAdjust="spacingAndGlyphs">80</text>
<line x1="245.5" y1="1213" x2="270.5" y2="1213" stroke="#000" stroke-width="3.6"/>
<line x1="1161" y1="1213" x2="1171" y2="1213" stroke="#000" stroke-width="3"/>
<text x="223" y="1219.5" font-family="'Liberation Sans', Arial, sans-serif" font-size="30" font-weight="bold" font-style="normal" text-anchor="end" fill="#3a3a3a" textLength="46" lengthAdjust="spacingAndGlyphs">60</text>
<line x1="245.5" y1="1246" x2="270.5" y2="1246" stroke="#000" stroke-width="3.6"/>
<line x1="1161" y1="1246" x2="1171" y2="1246" stroke="#000" stroke-width="3"/>
<text x="223" y="1252.5" font-family="'Liberation Sans', Arial, sans-serif" font-size="30" font-weight="bold" font-style="normal" text-anchor="end" fill="#3a3a3a" textLength="46" lengthAdjust="spacingAndGlyphs">40</text>
<line x1="245.5" y1="1284" x2="270.5" y2="1284" stroke="#000" stroke-width="3.6"/>
<line x1="1161" y1="1284" x2="1171" y2="1284" stroke="#000" stroke-width="3"/>
<text x="223" y="1290.5" font-family="'Liberation Sans', Arial, sans-serif" font-size="30" font-weight="bold" font-style="normal" text-anchor="end" fill="#3a3a3a" textLength="46" lengthAdjust="spacingAndGlyphs">20</text>
<line x1="245.5" y1="1337" x2="270.5" y2="1337" stroke="#000" stroke-width="3.6"/>
<line x1="1161" y1="1337" x2="1171" y2="1337" stroke="#000" stroke-width="3"/>
<text x="223" y="1343.5" font-family="'Liberation Sans', Arial, sans-serif" font-size="30" font-weight="bold" font-style="normal" text-anchor="end" fill="#3a3a3a" textLength="21.5" lengthAdjust="spacingAndGlyphs">5</text>
<line x1="245.5" y1="1379.5" x2="270.5" y2="1379.5" stroke="#000" stroke-width="3.6"/>
<line x1="1161" y1="1379.5" x2="1171" y2="1379.5" stroke="#000" stroke-width="3"/>
<text x="223" y="1386" font-family="'Liberation Sans', Arial, sans-serif" font-size="30" font-weight="bold" font-style="normal" text-anchor="end" fill="#3a3a3a" textLength="21.5" lengthAdjust="spacingAndGlyphs">1</text>
<line x1="245.5" y1="1428" x2="270.5" y2="1428" stroke="#000" stroke-width="3.6"/>
<line x1="1161" y1="1428" x2="1171" y2="1428" stroke="#000" stroke-width="3"/>
<text x="223" y="1434.5" font-family="'Liberation Sans', Arial, sans-serif" font-size="30" font-weight="bold" font-style="normal" text-anchor="end" fill="#3a3a3a" textLength="60" lengthAdjust="spacingAndGlyphs">0.1</text>
<text x="223" y="1473.5" font-family="'Liberation Sans', Arial, sans-serif" font-size="30" font-weight="bold" font-style="normal" text-anchor="end" fill="#3a3a3a" textLength="84.5" lengthAdjust="spacingAndGlyphs">0.01</text>
<line x1="245.5" y1="1903" x2="256.5" y2="1903" stroke="#000" stroke-width="3"/>
<line x1="1151" y1="1903" x2="1171" y2="1903" stroke="#000" stroke-width="3"/>
<text x="223" y="1909.5" font-family="'Liberation Sans', Arial, sans-serif" font-size="30" font-weight="bold" font-style="normal" text-anchor="end" fill="#3a3a3a" textLength="21.5" lengthAdjust="spacingAndGlyphs">0</text>
<line x1="245.5" y1="1866.7" x2="256.5" y2="1866.7" stroke="#000" stroke-width="3"/>
<line x1="1151" y1="1866.7" x2="1171" y2="1866.7" stroke="#000" stroke-width="3"/>
<line x1="245.5" y1="1830.4" x2="270.5" y2="1830.4" stroke="#000" stroke-width="3.6"/>
<line x1="1141" y1="1830.4" x2="1171" y2="1830.4" stroke="#000" stroke-width="3"/>
<text x="223" y="1836.9" font-family="'Liberation Sans', Arial, sans-serif" font-size="30" font-weight="bold" font-style="normal" text-anchor="end" fill="#3a3a3a" textLength="21.5" lengthAdjust="spacingAndGlyphs">2</text>
<line x1="245.5" y1="1794.1" x2="256.5" y2="1794.1" stroke="#000" stroke-width="3"/>
<line x1="1151" y1="1794.1" x2="1171" y2="1794.1" stroke="#000" stroke-width="3"/>
<line x1="245.5" y1="1757.8" x2="270.5" y2="1757.8" stroke="#000" stroke-width="3.6"/>
<line x1="1141" y1="1757.8" x2="1171" y2="1757.8" stroke="#000" stroke-width="3"/>
<text x="223" y="1764.3" font-family="'Liberation Sans', Arial, sans-serif" font-size="30" font-weight="bold" font-style="normal" text-anchor="end" fill="#3a3a3a" textLength="21.5" lengthAdjust="spacingAndGlyphs">4</text>
<line x1="245.5" y1="1721.5" x2="256.5" y2="1721.5" stroke="#000" stroke-width="3"/>
<line x1="1151" y1="1721.5" x2="1171" y2="1721.5" stroke="#000" stroke-width="3"/>
<line x1="245.5" y1="1685.2" x2="270.5" y2="1685.2" stroke="#000" stroke-width="3.6"/>
<line x1="1141" y1="1685.2" x2="1171" y2="1685.2" stroke="#000" stroke-width="3"/>
<text x="223" y="1691.7" font-family="'Liberation Sans', Arial, sans-serif" font-size="30" font-weight="bold" font-style="normal" text-anchor="end" fill="#3a3a3a" textLength="21.5" lengthAdjust="spacingAndGlyphs">6</text>
<line x1="245.5" y1="1648.9" x2="256.5" y2="1648.9" stroke="#000" stroke-width="3"/>
<line x1="1151" y1="1648.9" x2="1171" y2="1648.9" stroke="#000" stroke-width="3"/>
<line x1="245.5" y1="1612.6" x2="270.5" y2="1612.6" stroke="#000" stroke-width="3.6"/>
<line x1="1141" y1="1612.6" x2="1171" y2="1612.6" stroke="#000" stroke-width="3"/>
<text x="223" y="1619.1" font-family="'Liberation Sans', Arial, sans-serif" font-size="30" font-weight="bold" font-style="normal" text-anchor="end" fill="#3a3a3a" textLength="21.5" lengthAdjust="spacingAndGlyphs">8</text>
<line x1="245.5" y1="1576.3" x2="256.5" y2="1576.3" stroke="#000" stroke-width="3"/>
<line x1="1151" y1="1576.3" x2="1171" y2="1576.3" stroke="#000" stroke-width="3"/>
<line x1="245.5" y1="1540" x2="270.5" y2="1540" stroke="#000" stroke-width="3.6"/>
<line x1="1141" y1="1540" x2="1171" y2="1540" stroke="#000" stroke-width="3"/>
<text x="223" y="1546.5" font-family="'Liberation Sans', Arial, sans-serif" font-size="30" font-weight="bold" font-style="normal" text-anchor="end" fill="#3a3a3a" textLength="46" lengthAdjust="spacingAndGlyphs">10</text>
<line x1="245.5" y1="1503.7" x2="256.5" y2="1503.7" stroke="#000" stroke-width="3"/>
<line x1="1151" y1="1503.7" x2="1171" y2="1503.7" stroke="#000" stroke-width="3"/>
<text x="223" y="1473.5" font-family="'Liberation Sans', Arial, sans-serif" font-size="30" font-weight="bold" font-style="normal" text-anchor="end" fill="#3a3a3a" textLength="46" lengthAdjust="spacingAndGlyphs">12</text>
<line x1="321.8" y1="1034" x2="321.8" y2="1045.6" stroke="#000" stroke-width="4.5"/>
<line x1="474.4" y1="1034" x2="474.4" y2="1045.6" stroke="#000" stroke-width="4.5"/>
<line x1="627" y1="1034" x2="627" y2="1045.6" stroke="#000" stroke-width="4.5"/>
<line x1="779.6" y1="1034" x2="779.6" y2="1045.6" stroke="#000" stroke-width="4.5"/>
<line x1="932.2" y1="1034" x2="932.2" y2="1045.6" stroke="#000" stroke-width="4.5"/>
<line x1="1084.8" y1="1034" x2="1084.8" y2="1045.6" stroke="#000" stroke-width="4.5"/>
<line x1="321.8" y1="1456.9" x2="321.8" y2="1480.1" stroke="#000" stroke-width="4.5"/>
<line x1="398.1" y1="1456.9" x2="398.1" y2="1480.1" stroke="#000" stroke-width="4.5"/>
<line x1="474.4" y1="1456.9" x2="474.4" y2="1480.1" stroke="#000" stroke-width="4.5"/>
<line x1="550.7" y1="1456.9" x2="550.7" y2="1480.1" stroke="#000" stroke-width="4.5"/>
<line x1="627" y1="1456.9" x2="627" y2="1480.1" stroke="#000" stroke-width="4.5"/>
<line x1="703.3" y1="1456.9" x2="703.3" y2="1480.1" stroke="#000" stroke-width="4.5"/>
<line x1="779.6" y1="1456.9" x2="779.6" y2="1480.1" stroke="#000" stroke-width="4.5"/>
<line x1="855.9" y1="1456.9" x2="855.9" y2="1480.1" stroke="#000" stroke-width="4.5"/>
<line x1="932.2" y1="1456.9" x2="932.2" y2="1480.1" stroke="#000" stroke-width="4.5"/>
<line x1="1008.5" y1="1456.9" x2="1008.5" y2="1480.1" stroke="#000" stroke-width="4.5"/>
<line x1="1084.8" y1="1456.9" x2="1084.8" y2="1480.1" stroke="#000" stroke-width="4.5"/>
<line x1="321.8" y1="1904" x2="321.8" y2="1918.5" stroke="#000" stroke-width="4.5"/>
<line x1="398.1" y1="1904" x2="398.1" y2="1918.5" stroke="#000" stroke-width="4.5"/>
<line x1="474.4" y1="1904" x2="474.4" y2="1918.5" stroke="#000" stroke-width="4.5"/>
<line x1="550.7" y1="1904" x2="550.7" y2="1918.5" stroke="#000" stroke-width="4.5"/>
<line x1="627" y1="1904" x2="627" y2="1918.5" stroke="#000" stroke-width="4.5"/>
<line x1="703.3" y1="1904" x2="703.3" y2="1918.5" stroke="#000" stroke-width="4.5"/>
<line x1="779.6" y1="1904" x2="779.6" y2="1918.5" stroke="#000" stroke-width="4.5"/>
<line x1="855.9" y1="1904" x2="855.9" y2="1918.5" stroke="#000" stroke-width="4.5"/>
<line x1="932.2" y1="1904" x2="932.2" y2="1918.5" stroke="#000" stroke-width="4.5"/>
<line x1="1008.5" y1="1904" x2="1008.5" y2="1918.5" stroke="#000" stroke-width="4.5"/>
<line x1="1084.8" y1="1904" x2="1084.8" y2="1918.5" stroke="#000" stroke-width="4.5"/>
<text x="245.5" y="1950" font-family="'Liberation Sans', Arial, sans-serif" font-size="30" font-weight="bold" font-style="normal" text-anchor="middle" fill="#3a3a3a" textLength="21.5" lengthAdjust="spacingAndGlyphs">1</text>
<text x="321.8" y="1950" font-family="'Liberation Sans', Arial, sans-serif" font-size="30" font-weight="bold" font-style="normal" text-anchor="middle" fill="#3a3a3a" textLength="21.5" lengthAdjust="spacingAndGlyphs">2</text>
<text x="398.1" y="1950" font-family="'Liberation Sans', Arial, sans-serif" font-size="30" font-weight="bold" font-style="normal" text-anchor="middle" fill="#3a3a3a" textLength="21.5" lengthAdjust="spacingAndGlyphs">3</text>
<text x="474.4" y="1950" font-family="'Liberation Sans', Arial, sans-serif" font-size="30" font-weight="bold" font-style="normal" text-anchor="middle" fill="#3a3a3a" textLength="21.5" lengthAdjust="spacingAndGlyphs">4</text>
<text x="550.7" y="1950" font-family="'Liberation Sans', Arial, sans-serif" font-size="30" font-weight="bold" font-style="normal" text-anchor="middle" fill="#3a3a3a" textLength="21.5" lengthAdjust="spacingAndGlyphs">5</text>
<text x="627" y="1950" font-family="'Liberation Sans', Arial, sans-serif" font-size="30" font-weight="bold" font-style="normal" text-anchor="middle" fill="#3a3a3a" textLength="21.5" lengthAdjust="spacingAndGlyphs">6</text>
<text x="703.3" y="1950" font-family="'Liberation Sans', Arial, sans-serif" font-size="30" font-weight="bold" font-style="normal" text-anchor="middle" fill="#3a3a3a" textLength="21.5" lengthAdjust="spacingAndGlyphs">7</text>
<text x="779.6" y="1950" font-family="'Liberation Sans', Arial, sans-serif" font-size="30" font-weight="bold" font-style="normal" text-anchor="middle" fill="#3a3a3a" textLength="21.5" lengthAdjust="spacingAndGlyphs">8</text>
<text x="855.9" y="1950" font-family="'Liberation Sans', Arial, sans-serif" font-size="30" font-weight="bold" font-style="normal" text-anchor="middle" fill="#3a3a3a" textLength="21.5" lengthAdjust="spacingAndGlyphs">9</text>
<text x="932.2" y="1950" font-family="'Liberation Sans', Arial, sans-serif" font-size="30" font-weight="bold" font-style="normal" text-anchor="middle" fill="#3a3a3a" textLength="46" lengthAdjust="spacingAndGlyphs">10</text>
<text x="1008.5" y="1950" font-family="'Liberation Sans', Arial, sans-serif" font-size="30" font-weight="bold" font-style="normal" text-anchor="middle" fill="#3a3a3a" textLength="46" lengthAdjust="spacingAndGlyphs">11</text>
<text x="1084.8" y="1950" font-family="'Liberation Sans', Arial, sans-serif" font-size="30" font-weight="bold" font-style="normal" text-anchor="middle" fill="#3a3a3a" textLength="46" lengthAdjust="spacingAndGlyphs">12</text>
<text x="1161.1" y="1950" font-family="'Liberation Sans', Arial, sans-serif" font-size="30" font-weight="bold" font-style="normal" text-anchor="middle" fill="#3a3a3a" textLength="46" lengthAdjust="spacingAndGlyphs">13</text>
<line x1="245.5" y1="1031" x2="245.5" y2="1907" stroke="#000" stroke-width="7.5"/>
<line x1="1161" y1="1031" x2="1161" y2="1907" stroke="#000" stroke-width="9"/>
<line x1="241.8" y1="1034" x2="1164.8" y2="1034" stroke="#000" stroke-width="6"/>
<line x1="241.8" y1="1468.5" x2="1164.8" y2="1468.5" stroke="#000" stroke-width="6"/>
<line x1="241.8" y1="1904" x2="1164.8" y2="1904" stroke="#000" stroke-width="6"/>
<text transform="translate(90 1281) rotate(-90)" x="0" y="0" font-family="'Liberation Serif', 'Times New Roman', serif" font-size="70" font-weight="normal" font-style="italic" text-anchor="middle" fill="#111" stroke="#111" stroke-width="1" textLength="387" lengthAdjust="spacingAndGlyphs">Cumulative Counts</text>
<text transform="translate(88 1715) rotate(-90)" x="0" y="0" font-family="'Liberation Serif', 'Times New Roman', serif" font-size="62" font-weight="normal" font-style="italic" text-anchor="middle" fill="#111" stroke="#111" stroke-width="1" textLength="142" lengthAdjust="spacingAndGlyphs">Counts</text>
<text transform="translate(345 2007) scale(1.4 1)" x="0" y="0" font-family="'Liberation Serif', 'Times New Roman', serif" font-size="48" font-weight="bold" font-style="italic" fill="#111" textLength="420" lengthAdjust="spacing">Spore diameter (μm)</text>
<text x="283" y="1119" font-family="'Liberation Serif', 'Times New Roman', serif" font-size="78" font-weight="bold" font-style="normal" text-anchor="start" fill="#000" textLength="170" lengthAdjust="spacingAndGlyphs">(iii)</text>
<rect x="1559.5" y="1725.4" width="76.2" height="165.6" fill="url(#hB3)"/>
<rect x="1635.8" y="1502.6" width="76.2" height="388.4" fill="url(#hB3)"/>
<rect x="1712" y="1669.7" width="76.2" height="221.3" fill="url(#hB3)"/>
<rect x="1788.2" y="1836.8" width="76.2" height="54.2" fill="url(#hB3)"/>
<rect x="1864.5" y="1781.1" width="76.2" height="109.9" fill="url(#hB3)"/>
<rect x="2017" y="1781.1" width="76.2" height="109.9" fill="url(#hB3)"/>
<rect x="2093.2" y="1836.8" width="76.2" height="54.2" fill="url(#hB3)"/>
<rect x="1559.5" y="1725.4" width="76.2" height="165.6" fill="none" stroke="#0000ff" stroke-width="3.6"/>
<rect x="1635.8" y="1502.6" width="76.2" height="388.4" fill="none" stroke="#0000ff" stroke-width="3.6"/>
<rect x="1712" y="1669.7" width="76.2" height="221.3" fill="none" stroke="#0000ff" stroke-width="3.6"/>
<rect x="1788.2" y="1836.8" width="76.2" height="54.2" fill="none" stroke="#0000ff" stroke-width="3.6"/>
<rect x="1864.5" y="1781.1" width="76.2" height="109.9" fill="none" stroke="#0000ff" stroke-width="3.6"/>
<rect x="2017" y="1781.1" width="76.2" height="109.9" fill="none" stroke="#0000ff" stroke-width="3.6"/>
<rect x="2093.2" y="1836.8" width="76.2" height="54.2" fill="none" stroke="#0000ff" stroke-width="3.6"/>
<path d="M1407 1841.6 L1414 1837.3 L1421 1832.7 L1428 1827.8 L1435 1822.6 L1441.9 1817.2 L1448.9 1811.4 L1455.9 1805.4 L1462.9 1799.1 L1469.9 1792.5 L1476.9 1785.6 L1483.9 1778.4 L1490.9 1770.9 L1497.9 1763.2 L1504.9 1755.2 L1511.8 1747 L1518.8 1738.5 L1525.8 1729.8 L1532.8 1720.9 L1539.8 1711.8 L1546.8 1702.6 L1553.8 1693.2 L1560.8 1683.7 L1567.8 1674.1 L1574.8 1664.5 L1581.7 1654.8 L1588.7 1645.1 L1595.7 1635.5 L1602.7 1625.9 L1609.7 1616.5 L1616.7 1607.2 L1623.7 1598 L1630.7 1589.1 L1637.7 1580.4 L1644.6 1572.1 L1651.6 1564 L1658.6 1556.3 L1665.6 1549.1 L1672.6 1542.2 L1679.6 1535.8 L1686.6 1529.9 L1693.6 1524.5 L1700.6 1519.7 L1707.6 1515.4 L1714.5 1511.7 L1721.5 1508.6 L1728.5 1506.2 L1735.5 1504.3 L1742.5 1503.2 L1749.5 1502.6 L1756.5 1502.8 L1763.5 1503.5 L1770.5 1505 L1777.4 1507 L1784.4 1509.7 L1791.4 1513 L1798.4 1516.9 L1805.4 1521.4 L1812.4 1526.5 L1819.4 1532.1 L1826.4 1538.2 L1833.4 1544.8 L1840.4 1551.8 L1847.3 1559.2 L1854.3 1567.1 L1861.3 1575.2 L1868.3 1583.7 L1875.3 1592.5 L1882.3 1601.5 L1889.3 1610.7 L1896.3 1620.1 L1903.3 1629.6 L1910.2 1639.2 L1917.2 1648.8 L1924.2 1658.5 L1931.2 1668.1 L1938.2 1677.8 L1945.2 1687.3 L1952.2 1696.8 L1959.2 1706.1 L1966.2 1715.3 L1973.2 1724.3 L1980.1 1733.2 L1987.1 1741.8 L1994.1 1750.2 L2001.1 1758.3 L2008.1 1766.2 L2015.1 1773.8 L2022.1 1781.2 L2029.1 1788.3 L2036.1 1795 L2043.1 1801.5 L2050 1807.7 L2057 1813.7 L2064 1819.3 L2071 1824.6 L2078 1829.7 L2085 1834.4 L2092 1838.9 L2099 1843.2 L2106 1847.2 L2112.9 1850.9 L2119.9 1854.4 L2126.9 1857.6 L2133.9 1860.6 L2140.9 1863.5 L2147.9 1866.1 L2154.9 1868.5 L2161.9 1870.7 L2168.9 1872.8 L2175.9 1874.7 L2182.8 1876.4 L2189.8 1878 L2196.8 1879.4 L2203.8 1880.8 L2210.8 1882 L2217.8 1883.1 L2224.8 1884.1 L2231.8 1885 L2238.8 1885.8 L2245.8 1886.6" fill="none" stroke="#000" stroke-width="6" stroke-linejoin="round"/>
<path d="M1597.6 1304.5 L1602.4 1300.4 L1607.2 1296.2 L1611.9 1291.8 L1616.7 1287.4 L1621.5 1282.9 L1626.2 1278.5 L1631 1274 L1635.8 1269.6 L1640.5 1265.3 L1645.3 1261.1 L1650 1257.1 L1654.8 1253.2 L1659.6 1249.5 L1664.3 1246.1 L1669.1 1242.9 L1673.9 1240 L1678.6 1237.3 L1683.4 1234.6 L1688.2 1232 L1692.9 1229.4 L1697.7 1226.9 L1702.5 1224.5 L1707.2 1222.2 L1712 1220 L1716.8 1217.8 L1721.5 1215.9 L1726.3 1214 L1731.1 1212.3 L1735.8 1210.7 L1740.6 1209.3 L1745.4 1208.1 L1750.1 1207 L1754.9 1206.1 L1759.7 1205.3 L1764.4 1204.6 L1769.2 1203.9 L1774 1203.3 L1778.7 1202.8 L1783.5 1202.2 L1788.2 1201.7 L1793 1201.3 L1797.8 1200.8 L1802.5 1200.3 L1807.3 1199.7 L1812.1 1199.1 L1816.8 1198.5 L1821.6 1197.8 L1826.4 1197 L1831.1 1196.1 L1835.9 1194.9 L1840.7 1193.6 L1845.4 1192.1 L1850.2 1190.6 L1855 1188.9 L1859.7 1187.3 L1864.5 1185.7 L1869.3 1184.1 L1874 1182.5 L1878.8 1181.1 L1883.6 1179.9 L1888.3 1178.8 L1893.1 1177.9 L1897.9 1177.3 L1902.6 1177 L1907.4 1176.9 L1912.2 1176.7 L1916.9 1176.6 L1921.7 1176.5 L1926.5 1176.5 L1931.2 1176.4 L1936 1176.4 L1940.8 1176.3 L1945.5 1176.3 L1950.3 1176.2 L1955 1176.1 L1959.8 1176.1 L1964.6 1176 L1969.3 1175.9 L1974.1 1175.8 L1978.9 1175.6 L1983.6 1175.2 L1988.4 1174.3 L1993.2 1172.9 L1997.9 1171.2 L2002.7 1169.2 L2007.5 1166.8 L2012.2 1164.3 L2017 1161.5 L2021.8 1158.7 L2026.5 1155.7 L2031.3 1152.7 L2036.1 1149.7 L2040.8 1146.8 L2045.6 1144 L2050.4 1141.4 L2055.1 1139" fill="none" stroke="#000" stroke-width="3.5" stroke-linejoin="round"/>
<rect x="1587.6" y="1296.5" width="20" height="16" fill="#000"/>
<rect x="1663.9" y="1232" width="20" height="16" fill="#000"/>
<rect x="1740.1" y="1199" width="20" height="16" fill="#000"/>
<rect x="1816.4" y="1189" width="20" height="16" fill="#000"/>
<rect x="1892.6" y="1169" width="20" height="16" fill="#000"/>
<rect x="1968.9" y="1167.6" width="20" height="16" fill="#000"/>
<rect x="2045.1" y="1131" width="20" height="16" fill="#000"/>
<text x="1385" y="1060" font-family="'Liberation Serif', 'Times New Roman', serif" font-size="33" font-weight="bold" font-style="normal" text-anchor="end" fill="#333" textLength="76.5" lengthAdjust="spacing">99.9</text>
<line x1="1407" y1="1098" x2="1432" y2="1098" stroke="#000" stroke-width="3.6"/>
<line x1="2322.5" y1="1098" x2="2332.5" y2="1098" stroke="#000" stroke-width="3"/>
<text x="1385" y="1108" font-family="'Liberation Serif', 'Times New Roman', serif" font-size="33" font-weight="bold" font-style="normal" text-anchor="end" fill="#333" textLength="41" lengthAdjust="spacing">99</text>
<line x1="1407" y1="1138" x2="1432" y2="1138" stroke="#000" stroke-width="3.6"/>
<line x1="2322.5" y1="1138" x2="2332.5" y2="1138" stroke="#000" stroke-width="3"/>
<text x="1385" y="1148" font-family="'Liberation Serif', 'Times New Roman', serif" font-size="33" font-weight="bold" font-style="normal" text-anchor="end" fill="#333" textLength="41" lengthAdjust="spacing">95</text>
<line x1="1407" y1="1190" x2="1432" y2="1190" stroke="#000" stroke-width="3.6"/>
<line x1="2322.5" y1="1190" x2="2332.5" y2="1190" stroke="#000" stroke-width="3"/>
<text x="1385" y="1200" font-family="'Liberation Serif', 'Times New Roman', serif" font-size="33" font-weight="bold" font-style="normal" text-anchor="end" fill="#333" textLength="41" lengthAdjust="spacing">80</text>
<line x1="1407" y1="1225" x2="1432" y2="1225" stroke="#000" stroke-width="3.6"/>
<line x1="2322.5" y1="1225" x2="2332.5" y2="1225" stroke="#000" stroke-width="3"/>
<text x="1385" y="1235" font-family="'Liberation Serif', 'Times New Roman', serif" font-size="33" font-weight="bold" font-style="normal" text-anchor="end" fill="#333" textLength="41" lengthAdjust="spacing">60</text>
<line x1="1407" y1="1258" x2="1432" y2="1258" stroke="#000" stroke-width="3.6"/>
<line x1="2322.5" y1="1258" x2="2332.5" y2="1258" stroke="#000" stroke-width="3"/>
<text x="1385" y="1268" font-family="'Liberation Serif', 'Times New Roman', serif" font-size="33" font-weight="bold" font-style="normal" text-anchor="end" fill="#333" textLength="41" lengthAdjust="spacing">40</text>
<line x1="1407" y1="1294" x2="1432" y2="1294" stroke="#000" stroke-width="3.6"/>
<line x1="2322.5" y1="1294" x2="2332.5" y2="1294" stroke="#000" stroke-width="3"/>
<text x="1385" y="1304" font-family="'Liberation Serif', 'Times New Roman', serif" font-size="33" font-weight="bold" font-style="normal" text-anchor="end" fill="#333" textLength="41" lengthAdjust="spacing">20</text>
<line x1="1407" y1="1342" x2="1432" y2="1342" stroke="#000" stroke-width="3.6"/>
<line x1="2322.5" y1="1342" x2="2332.5" y2="1342" stroke="#000" stroke-width="3"/>
<text x="1385" y="1352" font-family="'Liberation Serif', 'Times New Roman', serif" font-size="33" font-weight="bold" font-style="normal" text-anchor="end" fill="#333" textLength="17.5" lengthAdjust="spacing">5</text>
<line x1="1407" y1="1385" x2="1432" y2="1385" stroke="#000" stroke-width="3.6"/>
<line x1="2322.5" y1="1385" x2="2332.5" y2="1385" stroke="#000" stroke-width="3"/>
<text x="1385" y="1395" font-family="'Liberation Serif', 'Times New Roman', serif" font-size="33" font-weight="bold" font-style="normal" text-anchor="end" fill="#333" textLength="17.5" lengthAdjust="spacing">1</text>
<line x1="1407" y1="1433" x2="1432" y2="1433" stroke="#000" stroke-width="3.6"/>
<line x1="2322.5" y1="1433" x2="2332.5" y2="1433" stroke="#000" stroke-width="3"/>
<text x="1385" y="1443" font-family="'Liberation Serif', 'Times New Roman', serif" font-size="33" font-weight="bold" font-style="normal" text-anchor="end" fill="#333" textLength="53" lengthAdjust="spacing">0.1</text>
<text x="1385" y="1480" font-family="'Liberation Serif', 'Times New Roman', serif" font-size="33" font-weight="bold" font-style="normal" text-anchor="end" fill="#333" textLength="76.5" lengthAdjust="spacing">0.01</text>
<line x1="1407" y1="1892.5" x2="1418" y2="1892.5" stroke="#000" stroke-width="3"/>
<line x1="2322.5" y1="1892.5" x2="2332.5" y2="1892.5" stroke="#000" stroke-width="3"/>
<text x="1385" y="1902.5" font-family="'Liberation Serif', 'Times New Roman', serif" font-size="33" font-weight="bold" font-style="normal" text-anchor="end" fill="#333" textLength="17.5" lengthAdjust="spacing">0</text>
<line x1="1407" y1="1864.7" x2="1418" y2="1864.7" stroke="#000" stroke-width="3"/>
<line x1="2322.5" y1="1864.7" x2="2332.5" y2="1864.7" stroke="#000" stroke-width="3"/>
<line x1="1407" y1="1809" x2="1418" y2="1809" stroke="#000" stroke-width="3"/>
<line x1="2322.5" y1="1809" x2="2332.5" y2="1809" stroke="#000" stroke-width="3"/>
<line x1="1407" y1="1753.2" x2="1418" y2="1753.2" stroke="#000" stroke-width="3"/>
<line x1="2322.5" y1="1753.2" x2="2332.5" y2="1753.2" stroke="#000" stroke-width="3"/>
<line x1="1407" y1="1697.5" x2="1418" y2="1697.5" stroke="#000" stroke-width="3"/>
<line x1="2322.5" y1="1697.5" x2="2332.5" y2="1697.5" stroke="#000" stroke-width="3"/>
<line x1="1407" y1="1641.8" x2="1418" y2="1641.8" stroke="#000" stroke-width="3"/>
<line x1="2322.5" y1="1641.8" x2="2332.5" y2="1641.8" stroke="#000" stroke-width="3"/>
<line x1="1407" y1="1586.2" x2="1418" y2="1586.2" stroke="#000" stroke-width="3"/>
<line x1="2322.5" y1="1586.2" x2="2332.5" y2="1586.2" stroke="#000" stroke-width="3"/>
<line x1="1407" y1="1530.5" x2="1418" y2="1530.5" stroke="#000" stroke-width="3"/>
<line x1="2322.5" y1="1530.5" x2="2332.5" y2="1530.5" stroke="#000" stroke-width="3"/>
<line x1="1407" y1="1836.8" x2="1432" y2="1836.8" stroke="#000" stroke-width="3.6"/>
<line x1="2322.5" y1="1836.8" x2="2332.5" y2="1836.8" stroke="#000" stroke-width="3"/>
<text x="1385" y="1846.8" font-family="'Liberation Serif', 'Times New Roman', serif" font-size="33" font-weight="bold" font-style="normal" text-anchor="end" fill="#333" textLength="17.5" lengthAdjust="spacing">1</text>
<line x1="1407" y1="1781.1" x2="1432" y2="1781.1" stroke="#000" stroke-width="3.6"/>
<line x1="2322.5" y1="1781.1" x2="2332.5" y2="1781.1" stroke="#000" stroke-width="3"/>
<text x="1385" y="1791.1" font-family="'Liberation Serif', 'Times New Roman', serif" font-size="33" font-weight="bold" font-style="normal" text-anchor="end" fill="#333" textLength="17.5" lengthAdjust="spacing">2</text>
<line x1="1407" y1="1725.4" x2="1432" y2="1725.4" stroke="#000" stroke-width="3.6"/>
<line x1="2322.5" y1="1725.4" x2="2332.5" y2="1725.4" stroke="#000" stroke-width="3"/>
<text x="1385" y="1735.4" font-family="'Liberation Serif', 'Times New Roman', serif" font-size="33" font-weight="bold" font-style="normal" text-anchor="end" fill="#333" textLength="17.5" lengthAdjust="spacing">3</text>
<line x1="1407" y1="1669.7" x2="1432" y2="1669.7" stroke="#000" stroke-width="3.6"/>
<line x1="2322.5" y1="1669.7" x2="2332.5" y2="1669.7" stroke="#000" stroke-width="3"/>
<text x="1385" y="1679.7" font-family="'Liberation Serif', 'Times New Roman', serif" font-size="33" font-weight="bold" font-style="normal" text-anchor="end" fill="#333" textLength="17.5" lengthAdjust="spacing">4</text>
<line x1="1407" y1="1614" x2="1432" y2="1614" stroke="#000" stroke-width="3.6"/>
<line x1="2322.5" y1="1614" x2="2332.5" y2="1614" stroke="#000" stroke-width="3"/>
<text x="1385" y="1624" font-family="'Liberation Serif', 'Times New Roman', serif" font-size="33" font-weight="bold" font-style="normal" text-anchor="end" fill="#333" textLength="17.5" lengthAdjust="spacing">5</text>
<line x1="1407" y1="1558.3" x2="1432" y2="1558.3" stroke="#000" stroke-width="3.6"/>
<line x1="2322.5" y1="1558.3" x2="2332.5" y2="1558.3" stroke="#000" stroke-width="3"/>
<text x="1385" y="1568.3" font-family="'Liberation Serif', 'Times New Roman', serif" font-size="33" font-weight="bold" font-style="normal" text-anchor="end" fill="#333" textLength="17.5" lengthAdjust="spacing">6</text>
<line x1="1407" y1="1502.6" x2="1432" y2="1502.6" stroke="#000" stroke-width="3.6"/>
<line x1="2322.5" y1="1502.6" x2="2332.5" y2="1502.6" stroke="#000" stroke-width="3"/>
<text x="1385" y="1512.6" font-family="'Liberation Serif', 'Times New Roman', serif" font-size="33" font-weight="bold" font-style="normal" text-anchor="end" fill="#333" textLength="17.5" lengthAdjust="spacing">7</text>
<line x1="1559.5" y1="1050" x2="1559.5" y2="1061.6" stroke="#000" stroke-width="4.5"/>
<line x1="1712" y1="1050" x2="1712" y2="1061.6" stroke="#000" stroke-width="4.5"/>
<line x1="1864.5" y1="1050" x2="1864.5" y2="1061.6" stroke="#000" stroke-width="4.5"/>
<line x1="2017" y1="1050" x2="2017" y2="1061.6" stroke="#000" stroke-width="4.5"/>
<line x1="2169.5" y1="1050" x2="2169.5" y2="1061.6" stroke="#000" stroke-width="4.5"/>
<line x1="1483.2" y1="1466.2" x2="1483.2" y2="1472" stroke="#000" stroke-width="4.5"/>
<line x1="1559.5" y1="1460.4" x2="1559.5" y2="1472" stroke="#000" stroke-width="4.5"/>
<line x1="1635.8" y1="1466.2" x2="1635.8" y2="1472" stroke="#000" stroke-width="4.5"/>
<line x1="1712" y1="1460.4" x2="1712" y2="1472" stroke="#000" stroke-width="4.5"/>
<line x1="1788.2" y1="1466.2" x2="1788.2" y2="1472" stroke="#000" stroke-width="4.5"/>
<line x1="1864.5" y1="1460.4" x2="1864.5" y2="1472" stroke="#000" stroke-width="4.5"/>
<line x1="1940.8" y1="1466.2" x2="1940.8" y2="1472" stroke="#000" stroke-width="4.5"/>
<line x1="2017" y1="1460.4" x2="2017" y2="1472" stroke="#000" stroke-width="4.5"/>
<line x1="2093.2" y1="1466.2" x2="2093.2" y2="1472" stroke="#000" stroke-width="4.5"/>
<line x1="2169.5" y1="1460.4" x2="2169.5" y2="1472" stroke="#000" stroke-width="4.5"/>
<line x1="2245.8" y1="1466.2" x2="2245.8" y2="1472" stroke="#000" stroke-width="4.5"/>
<line x1="1483.2" y1="1891" x2="1483.2" y2="1908.4" stroke="#000" stroke-width="4.5"/>
<line x1="1559.5" y1="1891" x2="1559.5" y2="1908.4" stroke="#000" stroke-width="4.5"/>
<line x1="1635.8" y1="1891" x2="1635.8" y2="1908.4" stroke="#000" stroke-width="4.5"/>
<line x1="1712" y1="1891" x2="1712" y2="1908.4" stroke="#000" stroke-width="4.5"/>
<line x1="1788.2" y1="1891" x2="1788.2" y2="1908.4" stroke="#000" stroke-width="4.5"/>
<line x1="1864.5" y1="1891" x2="1864.5" y2="1908.4" stroke="#000" stroke-width="4.5"/>
<line x1="1940.8" y1="1891" x2="1940.8" y2="1908.4" stroke="#000" stroke-width="4.5"/>
<line x1="2017" y1="1891" x2="2017" y2="1908.4" stroke="#000" stroke-width="4.5"/>
<line x1="2093.2" y1="1891" x2="2093.2" y2="1908.4" stroke="#000" stroke-width="4.5"/>
<line x1="2169.5" y1="1891" x2="2169.5" y2="1908.4" stroke="#000" stroke-width="4.5"/>
<line x1="2245.8" y1="1891" x2="2245.8" y2="1908.4" stroke="#000" stroke-width="4.5"/>
<line x1="2322" y1="1891" x2="2322" y2="1908.4" stroke="#000" stroke-width="4.5"/>
<text x="1407" y="1938" font-family="'Liberation Serif', 'Times New Roman', serif" font-size="33" font-weight="bold" font-style="normal" text-anchor="middle" fill="#333" textLength="17.5" lengthAdjust="spacing">2</text>
<text x="1483.2" y="1938" font-family="'Liberation Serif', 'Times New Roman', serif" font-size="33" font-weight="bold" font-style="normal" text-anchor="middle" fill="#333" textLength="17.5" lengthAdjust="spacing">3</text>
<text x="1559.5" y="1938" font-family="'Liberation Serif', 'Times New Roman', serif" font-size="33" font-weight="bold" font-style="normal" text-anchor="middle" fill="#333" textLength="17.5" lengthAdjust="spacing">4</text>
<text x="1635.8" y="1938" font-family="'Liberation Serif', 'Times New Roman', serif" font-size="33" font-weight="bold" font-style="normal" text-anchor="middle" fill="#333" textLength="17.5" lengthAdjust="spacing">5</text>
<text x="1712" y="1938" font-family="'Liberation Serif', 'Times New Roman', serif" font-size="33" font-weight="bold" font-style="normal" text-anchor="middle" fill="#333" textLength="17.5" lengthAdjust="spacing">6</text>
<text x="1788.2" y="1938" font-family="'Liberation Serif', 'Times New Roman', serif" font-size="33" font-weight="bold" font-style="normal" text-anchor="middle" fill="#333" textLength="17.5" lengthAdjust="spacing">7</text>
<text x="1864.5" y="1938" font-family="'Liberation Serif', 'Times New Roman', serif" font-size="33" font-weight="bold" font-style="normal" text-anchor="middle" fill="#333" textLength="17.5" lengthAdjust="spacing">8</text>
<text x="1940.8" y="1938" font-family="'Liberation Serif', 'Times New Roman', serif" font-size="33" font-weight="bold" font-style="normal" text-anchor="middle" fill="#333" textLength="17.5" lengthAdjust="spacing">9</text>
<text x="2017" y="1938" font-family="'Liberation Serif', 'Times New Roman', serif" font-size="33" font-weight="bold" font-style="normal" text-anchor="middle" fill="#333" textLength="41" lengthAdjust="spacing">10</text>
<text x="2093.2" y="1938" font-family="'Liberation Serif', 'Times New Roman', serif" font-size="33" font-weight="bold" font-style="normal" text-anchor="middle" fill="#333" textLength="41" lengthAdjust="spacing">11</text>
<text x="2169.5" y="1938" font-family="'Liberation Serif', 'Times New Roman', serif" font-size="33" font-weight="bold" font-style="normal" text-anchor="middle" fill="#333" textLength="41" lengthAdjust="spacing">12</text>
<text x="2245.8" y="1938" font-family="'Liberation Serif', 'Times New Roman', serif" font-size="33" font-weight="bold" font-style="normal" text-anchor="middle" fill="#333" textLength="41" lengthAdjust="spacing">13</text>
<text x="2322" y="1938" font-family="'Liberation Serif', 'Times New Roman', serif" font-size="33" font-weight="bold" font-style="normal" text-anchor="middle" fill="#333" textLength="41" lengthAdjust="spacing">14</text>
<line x1="1407" y1="1047" x2="1407" y2="1894" stroke="#000" stroke-width="7.5"/>
<line x1="2322.5" y1="1047" x2="2322.5" y2="1894" stroke="#000" stroke-width="7.5"/>
<line x1="1403.2" y1="1050" x2="2326.2" y2="1050" stroke="#000" stroke-width="6"/>
<line x1="1403.2" y1="1472" x2="2326.2" y2="1472" stroke="#000" stroke-width="6"/>
<line x1="1403.2" y1="1891" x2="2326.2" y2="1891" stroke="#000" stroke-width="6"/>
<text transform="translate(1260 1289.5) rotate(-90)" x="0" y="0" font-family="'Liberation Serif', 'Times New Roman', serif" font-size="70" font-weight="normal" font-style="italic" text-anchor="middle" fill="#111" stroke="#111" stroke-width="1" textLength="375" lengthAdjust="spacingAndGlyphs">Cumulative Counts</text>
<text transform="translate(1280 1710) rotate(-90)" x="0" y="0" font-family="'Liberation Serif', 'Times New Roman', serif" font-size="62" font-weight="normal" font-style="italic" text-anchor="middle" fill="#111" stroke="#111" stroke-width="1" textLength="135.6" lengthAdjust="spacingAndGlyphs">Counts</text>
<text transform="translate(1506 1992) scale(1.3 1)" x="0" y="0" font-family="'Liberation Serif', 'Times New Roman', serif" font-size="42" font-weight="bold" font-style="italic" fill="#222" textLength="450.8" lengthAdjust="spacing">Spore diameter (μm)</text>
<text x="1457" y="1128" font-family="'Liberation Serif', 'Times New Roman', serif" font-size="78" font-weight="bold" font-style="normal" text-anchor="start" fill="#000" textLength="161.5" lengthAdjust="spacingAndGlyphs">(iv)</text>
<rect x="241.5" y="2512" width="148.1" height="402.5" fill="url(#hB3)"/>
<rect x="389.6" y="2562.2" width="148.1" height="352.2" fill="url(#hB3)"/>
<rect x="685.8" y="2813.5" width="148.1" height="101" fill="url(#hB3)"/>
<rect x="833.9" y="2813.5" width="148.1" height="101" fill="url(#hB3)"/>
<rect x="241.5" y="2512" width="148.1" height="402.5" fill="none" stroke="#0000ff" stroke-width="3.6"/>
<rect x="389.6" y="2562.2" width="148.1" height="352.2" fill="none" stroke="#0000ff" stroke-width="3.6"/>
<rect x="685.8" y="2813.5" width="148.1" height="101" fill="none" stroke="#0000ff" stroke-width="3.6"/>
<rect x="833.9" y="2813.5" width="148.1" height="101" fill="none" stroke="#0000ff" stroke-width="3.6"/>
<path d="M241.5 2736.5 L248.9 2727.1 L256.3 2717.6 L263.7 2707.9 L271.1 2698 L278.5 2688.1 L285.9 2678.2 L293.3 2668.2 L300.7 2658.2 L308.1 2648.3 L315.6 2638.4 L323 2628.6 L330.4 2619 L337.8 2609.6 L345.2 2600.4 L352.6 2591.5 L360 2582.9 L367.4 2574.6 L374.8 2566.7 L382.2 2559.2 L389.6 2552.2 L397 2545.6 L404.4 2539.6 L411.8 2534.1 L419.2 2529.1 L426.6 2524.8 L434 2521 L441.4 2517.9 L448.8 2515.4 L456.2 2513.6 L463.6 2512.5 L471.1 2512 L478.5 2512.2 L485.9 2513.1 L493.3 2514.6 L500.7 2516.8 L508.1 2519.7 L515.5 2523.2 L522.9 2527.3 L530.3 2532 L537.7 2537.3 L545.1 2543.2 L552.5 2549.5 L559.9 2556.4 L567.3 2563.7 L574.7 2571.4 L582.1 2579.5 L589.5 2588 L596.9 2596.8 L604.3 2605.9 L611.8 2615.2 L619.2 2624.8 L626.6 2634.5 L634 2644.3 L641.4 2654.2 L648.8 2664.2 L656.2 2674.2 L663.6 2684.1 L671 2694.1 L678.4 2703.9 L685.8 2713.7 L693.2 2723.3 L700.6 2732.8 L708 2742.1 L715.4 2751.1 L722.8 2760 L730.2 2768.6 L737.6 2777 L745 2785.1 L752.4 2792.9 L759.9 2800.5 L767.3 2807.7 L774.7 2814.7 L782.1 2821.3 L789.5 2827.7 L796.9 2833.7 L804.3 2839.5 L811.7 2845 L819.1 2850.1 L826.5 2855 L833.9 2859.6 L841.3 2863.9 L848.7 2868 L856.1 2871.8 L863.5 2875.3 L870.9 2878.6 L878.3 2881.7 L885.7 2884.6 L893.1 2887.2 L900.5 2889.7 L908 2892 L915.4 2894.1 L922.8 2896 L930.2 2897.7 L937.6 2899.4 L945 2900.8 L952.4 2902.2 L959.8 2903.4 L967.2 2904.5 L974.6 2905.5 L982 2906.5 L989.4 2907.3 L996.8 2908 L1004.2 2908.7 L1011.6 2909.3 L1019 2909.9 L1026.4 2910.3 L1033.8 2910.8 L1041.2 2911.2 L1048.6 2911.5 L1056.1 2911.8 L1063.5 2912.1 L1070.9 2912.3 L1078.3 2912.5 L1085.7 2912.7 L1093.1 2912.9 L1100.5 2913 L1107.9 2913.2 L1115.3 2913.3 L1122.7 2913.4 L1130.1 2913.5" fill="none" stroke="#000" stroke-width="5.5" stroke-linejoin="round"/>
<path d="M315 2254 L316.6 2253.1 L318.1 2252.1 L319.7 2251.1 L321.2 2250.2 L322.8 2249.2 L324.4 2248.2 L325.9 2247.3 L327.5 2246.3 L329.1 2245.3 L330.6 2244.4 L332.2 2243.4 L333.8 2242.5 L335.3 2241.6 L336.9 2240.7 L338.4 2239.8 L340 2239 L342.8 2237.5 L345.6 2236 L348.4 2234.6 L351.2 2233.1 L354.1 2231.7 L356.9 2230.3 L359.7 2229 L362.5 2227.6 L365.3 2226.3 L368.1 2225 L370.9 2223.7 L373.8 2222.5 L376.6 2221.3 L379.4 2220.2 L382.2 2219.1 L385 2218 L387.8 2217 L390.6 2216 L393.4 2215 L396.2 2214 L399.1 2213.1 L401.9 2212.1 L404.7 2211.2 L407.5 2210.4 L410.3 2209.5 L413.1 2208.7 L415.9 2207.8 L418.8 2207 L421.6 2206.3 L424.4 2205.5 L427.2 2204.7 L430 2204 L432.5 2203.3 L435 2202.7 L437.5 2202 L440 2201.4 L442.5 2200.7 L445 2200.1 L447.5 2199.4 L450 2198.8 L452.5 2198.2 L455 2197.6 L457.5 2197.1 L460 2196.6 L462.5 2196.1 L465 2195.7 L467.5 2195.3 L470 2195 L473.9 2194.5 L477.9 2194.1 L481.8 2193.7 L485.8 2193.3 L489.7 2193 L493.6 2192.6 L497.6 2192.3 L501.5 2192 L505.4 2191.8 L509.4 2191.5 L513.3 2191.2 L517.2 2191 L521.2 2190.7 L525.1 2190.5 L529.1 2190.2 L533 2190 L537.9 2189.7 L542.8 2189.4 L547.6 2189.2 L552.5 2189 L557.4 2188.8 L562.2 2188.5 L567.1 2188.3 L572 2188.1 L576.9 2187.9 L581.8 2187.7 L586.6 2187.5 L591.5 2187.2 L596.4 2187 L601.2 2186.7 L606.1 2186.4 L611 2186 L616.4 2185.5 L621.8 2185 L627.1 2184.3 L632.5 2183.6 L637.9 2182.8 L643.2 2182 L648.6 2181.1 L654 2180.1 L659.4 2179.1 L664.8 2178.1 L670.1 2177.1 L675.5 2176.1 L680.9 2175 L686.2 2174 L691.6 2173 L697 2172 L701 2171.3 L705 2170.5 L709 2169.7 L713 2168.9 L717 2168.1 L721 2167.3 L725 2166.5 L729 2165.7 L733 2164.8 L737 2164 L741 2163.2 L745 2162.3 L749 2161.5 L753 2160.6 L757 2159.8 L761 2159" fill="none" stroke="#000" stroke-width="4" stroke-linejoin="round"/>
<rect x="305.6" y="2246" width="20" height="16" fill="#000"/>
<rect x="453.6" y="2181.8" width="20" height="16" fill="#000"/>
<rect x="601.8" y="2180.5" width="20" height="16" fill="#000"/>
<rect x="749.9" y="2150.6" width="20" height="16" fill="#000"/>
<text x="217" y="2053" font-family="'Liberation Serif', 'Times New Roman', serif" font-size="33" font-weight="bold" font-style="normal" text-anchor="end" fill="#333" textLength="76.5" lengthAdjust="spacing">99.9</text>
<line x1="241.5" y1="2092" x2="266.5" y2="2092" stroke="#000" stroke-width="3.6"/>
<line x1="1156" y1="2092" x2="1166" y2="2092" stroke="#000" stroke-width="3"/>
<text x="217" y="2102" font-family="'Liberation Serif', 'Times New Roman', serif" font-size="33" font-weight="bold" font-style="normal" text-anchor="end" fill="#333" textLength="41" lengthAdjust="spacing">99</text>
<line x1="241.5" y1="2134.4" x2="266.5" y2="2134.4" stroke="#000" stroke-width="3.6"/>
<line x1="1156" y1="2134.4" x2="1166" y2="2134.4" stroke="#000" stroke-width="3"/>
<text x="217" y="2144.4" font-family="'Liberation Serif', 'Times New Roman', serif" font-size="33" font-weight="bold" font-style="normal" text-anchor="end" fill="#333" textLength="41" lengthAdjust="spacing">95</text>
<line x1="241.5" y1="2187.7" x2="266.5" y2="2187.7" stroke="#000" stroke-width="3.6"/>
<line x1="1156" y1="2187.7" x2="1166" y2="2187.7" stroke="#000" stroke-width="3"/>
<text x="217" y="2197.7" font-family="'Liberation Serif', 'Times New Roman', serif" font-size="33" font-weight="bold" font-style="normal" text-anchor="end" fill="#333" textLength="41" lengthAdjust="spacing">80</text>
<line x1="241.5" y1="2223" x2="266.5" y2="2223" stroke="#000" stroke-width="3.6"/>
<line x1="1156" y1="2223" x2="1166" y2="2223" stroke="#000" stroke-width="3"/>
<text x="217" y="2233" font-family="'Liberation Serif', 'Times New Roman', serif" font-size="33" font-weight="bold" font-style="normal" text-anchor="end" fill="#333" textLength="41" lengthAdjust="spacing">60</text>
<line x1="241.5" y1="2256" x2="266.5" y2="2256" stroke="#000" stroke-width="3.6"/>
<line x1="1156" y1="2256" x2="1166" y2="2256" stroke="#000" stroke-width="3"/>
<text x="217" y="2266" font-family="'Liberation Serif', 'Times New Roman', serif" font-size="33" font-weight="bold" font-style="normal" text-anchor="end" fill="#333" textLength="41" lengthAdjust="spacing">40</text>
<line x1="241.5" y1="2294" x2="266.5" y2="2294" stroke="#000" stroke-width="3.6"/>
<line x1="1156" y1="2294" x2="1166" y2="2294" stroke="#000" stroke-width="3"/>
<text x="217" y="2304" font-family="'Liberation Serif', 'Times New Roman', serif" font-size="33" font-weight="bold" font-style="normal" text-anchor="end" fill="#333" textLength="41" lengthAdjust="spacing">20</text>
<line x1="241.5" y1="2347" x2="266.5" y2="2347" stroke="#000" stroke-width="3.6"/>
<line x1="1156" y1="2347" x2="1166" y2="2347" stroke="#000" stroke-width="3"/>
<text x="217" y="2357" font-family="'Liberation Serif', 'Times New Roman', serif" font-size="33" font-weight="bold" font-style="normal" text-anchor="end" fill="#333" textLength="17.5" lengthAdjust="spacing">5</text>
<line x1="241.5" y1="2389" x2="266.5" y2="2389" stroke="#000" stroke-width="3.6"/>
<line x1="1156" y1="2389" x2="1166" y2="2389" stroke="#000" stroke-width="3"/>
<text x="217" y="2399" font-family="'Liberation Serif', 'Times New Roman', serif" font-size="33" font-weight="bold" font-style="normal" text-anchor="end" fill="#333" textLength="17.5" lengthAdjust="spacing">1</text>
<line x1="241.5" y1="2437.7" x2="266.5" y2="2437.7" stroke="#000" stroke-width="3.6"/>
<line x1="1156" y1="2437.7" x2="1166" y2="2437.7" stroke="#000" stroke-width="3"/>
<text x="217" y="2447.7" font-family="'Liberation Serif', 'Times New Roman', serif" font-size="33" font-weight="bold" font-style="normal" text-anchor="end" fill="#333" textLength="53" lengthAdjust="spacing">0.1</text>
<text x="217" y="2488" font-family="'Liberation Serif', 'Times New Roman', serif" font-size="33" font-weight="bold" font-style="normal" text-anchor="end" fill="#333" textLength="76.5" lengthAdjust="spacing">0.01</text>
<line x1="241.5" y1="2914" x2="252.5" y2="2914" stroke="#000" stroke-width="3"/>
<line x1="1156" y1="2914" x2="1166" y2="2914" stroke="#000" stroke-width="3"/>
<text x="217" y="2924" font-family="'Liberation Serif', 'Times New Roman', serif" font-size="33" font-weight="bold" font-style="normal" text-anchor="end" fill="#333" textLength="17.5" lengthAdjust="spacing">0</text>
<line x1="241.5" y1="2863.8" x2="252.5" y2="2863.8" stroke="#000" stroke-width="3"/>
<line x1="1156" y1="2863.8" x2="1166" y2="2863.8" stroke="#000" stroke-width="3"/>
<line x1="241.5" y1="2813.5" x2="266.5" y2="2813.5" stroke="#000" stroke-width="3.6"/>
<line x1="1156" y1="2813.5" x2="1166" y2="2813.5" stroke="#000" stroke-width="3"/>
<text x="217" y="2823.5" font-family="'Liberation Serif', 'Times New Roman', serif" font-size="33" font-weight="bold" font-style="normal" text-anchor="end" fill="#333" textLength="17.5" lengthAdjust="spacing">2</text>
<line x1="241.5" y1="2763.2" x2="252.5" y2="2763.2" stroke="#000" stroke-width="3"/>
<line x1="1156" y1="2763.2" x2="1166" y2="2763.2" stroke="#000" stroke-width="3"/>
<line x1="241.5" y1="2713" x2="266.5" y2="2713" stroke="#000" stroke-width="3.6"/>
<line x1="1156" y1="2713" x2="1166" y2="2713" stroke="#000" stroke-width="3"/>
<text x="217" y="2723" font-family="'Liberation Serif', 'Times New Roman', serif" font-size="33" font-weight="bold" font-style="normal" text-anchor="end" fill="#333" textLength="17.5" lengthAdjust="spacing">4</text>
<line x1="241.5" y1="2662.8" x2="252.5" y2="2662.8" stroke="#000" stroke-width="3"/>
<line x1="1156" y1="2662.8" x2="1166" y2="2662.8" stroke="#000" stroke-width="3"/>
<line x1="241.5" y1="2612.5" x2="266.5" y2="2612.5" stroke="#000" stroke-width="3.6"/>
<line x1="1156" y1="2612.5" x2="1166" y2="2612.5" stroke="#000" stroke-width="3"/>
<text x="217" y="2622.5" font-family="'Liberation Serif', 'Times New Roman', serif" font-size="33" font-weight="bold" font-style="normal" text-anchor="end" fill="#333" textLength="17.5" lengthAdjust="spacing">6</text>
<line x1="241.5" y1="2562.2" x2="252.5" y2="2562.2" stroke="#000" stroke-width="3"/>
<line x1="1156" y1="2562.2" x2="1166" y2="2562.2" stroke="#000" stroke-width="3"/>
<line x1="241.5" y1="2512" x2="266.5" y2="2512" stroke="#000" stroke-width="3.6"/>
<line x1="1156" y1="2512" x2="1166" y2="2512" stroke="#000" stroke-width="3"/>
<text x="217" y="2522" font-family="'Liberation Serif', 'Times New Roman', serif" font-size="33" font-weight="bold" font-style="normal" text-anchor="end" fill="#333" textLength="17.5" lengthAdjust="spacing">8</text>
<line x1="271.1" y1="2043.5" x2="271.1" y2="2049.3" stroke="#000" stroke-width="4.5"/>
<line x1="300.7" y1="2043.5" x2="300.7" y2="2055.1" stroke="#000" stroke-width="4.5"/>
<line x1="330.4" y1="2043.5" x2="330.4" y2="2049.3" stroke="#000" stroke-width="4.5"/>
<line x1="360" y1="2043.5" x2="360" y2="2055.1" stroke="#000" stroke-width="4.5"/>
<line x1="389.6" y1="2043.5" x2="389.6" y2="2049.3" stroke="#000" stroke-width="4.5"/>
<line x1="419.2" y1="2043.5" x2="419.2" y2="2055.1" stroke="#000" stroke-width="4.5"/>
<line x1="448.8" y1="2043.5" x2="448.8" y2="2049.3" stroke="#000" stroke-width="4.5"/>
<line x1="478.5" y1="2043.5" x2="478.5" y2="2055.1" stroke="#000" stroke-width="4.5"/>
<line x1="508.1" y1="2043.5" x2="508.1" y2="2049.3" stroke="#000" stroke-width="4.5"/>
<line x1="537.7" y1="2043.5" x2="537.7" y2="2055.1" stroke="#000" stroke-width="4.5"/>
<line x1="567.3" y1="2043.5" x2="567.3" y2="2049.3" stroke="#000" stroke-width="4.5"/>
<line x1="596.9" y1="2043.5" x2="596.9" y2="2055.1" stroke="#000" stroke-width="4.5"/>
<line x1="626.6" y1="2043.5" x2="626.6" y2="2049.3" stroke="#000" stroke-width="4.5"/>
<line x1="656.2" y1="2043.5" x2="656.2" y2="2055.1" stroke="#000" stroke-width="4.5"/>
<line x1="685.8" y1="2043.5" x2="685.8" y2="2049.3" stroke="#000" stroke-width="4.5"/>
<line x1="715.4" y1="2043.5" x2="715.4" y2="2055.1" stroke="#000" stroke-width="4.5"/>
<line x1="745" y1="2043.5" x2="745" y2="2049.3" stroke="#000" stroke-width="4.5"/>
<line x1="774.7" y1="2043.5" x2="774.7" y2="2055.1" stroke="#000" stroke-width="4.5"/>
<line x1="804.3" y1="2043.5" x2="804.3" y2="2049.3" stroke="#000" stroke-width="4.5"/>
<line x1="833.9" y1="2043.5" x2="833.9" y2="2055.1" stroke="#000" stroke-width="4.5"/>
<line x1="863.5" y1="2043.5" x2="863.5" y2="2049.3" stroke="#000" stroke-width="4.5"/>
<line x1="893.1" y1="2043.5" x2="893.1" y2="2055.1" stroke="#000" stroke-width="4.5"/>
<line x1="922.8" y1="2043.5" x2="922.8" y2="2049.3" stroke="#000" stroke-width="4.5"/>
<line x1="952.4" y1="2043.5" x2="952.4" y2="2055.1" stroke="#000" stroke-width="4.5"/>
<line x1="982" y1="2043.5" x2="982" y2="2049.3" stroke="#000" stroke-width="4.5"/>
<line x1="1011.6" y1="2043.5" x2="1011.6" y2="2055.1" stroke="#000" stroke-width="4.5"/>
<line x1="1041.2" y1="2043.5" x2="1041.2" y2="2049.3" stroke="#000" stroke-width="4.5"/>
<line x1="1070.9" y1="2043.5" x2="1070.9" y2="2055.1" stroke="#000" stroke-width="4.5"/>
<line x1="1100.5" y1="2043.5" x2="1100.5" y2="2049.3" stroke="#000" stroke-width="4.5"/>
<line x1="1130.1" y1="2043.5" x2="1130.1" y2="2055.1" stroke="#000" stroke-width="4.5"/>
<line x1="300.7" y1="2466.9" x2="300.7" y2="2478.5" stroke="#000" stroke-width="4.5"/>
<line x1="360" y1="2466.9" x2="360" y2="2478.5" stroke="#000" stroke-width="4.5"/>
<line x1="419.2" y1="2466.9" x2="419.2" y2="2478.5" stroke="#000" stroke-width="4.5"/>
<line x1="478.5" y1="2466.9" x2="478.5" y2="2478.5" stroke="#000" stroke-width="4.5"/>
<line x1="537.7" y1="2466.9" x2="537.7" y2="2478.5" stroke="#000" stroke-width="4.5"/>
<line x1="596.9" y1="2466.9" x2="596.9" y2="2478.5" stroke="#000" stroke-width="4.5"/>
<line x1="656.2" y1="2466.9" x2="656.2" y2="2478.5" stroke="#000" stroke-width="4.5"/>
<line x1="715.4" y1="2466.9" x2="715.4" y2="2478.5" stroke="#000" stroke-width="4.5"/>
<line x1="774.7" y1="2466.9" x2="774.7" y2="2478.5" stroke="#000" stroke-width="4.5"/>
<line x1="833.9" y1="2466.9" x2="833.9" y2="2478.5" stroke="#000" stroke-width="4.5"/>
<line x1="893.1" y1="2466.9" x2="893.1" y2="2478.5" stroke="#000" stroke-width="4.5"/>
<line x1="952.4" y1="2466.9" x2="952.4" y2="2478.5" stroke="#000" stroke-width="4.5"/>
<line x1="1011.6" y1="2466.9" x2="1011.6" y2="2478.5" stroke="#000" stroke-width="4.5"/>
<line x1="1070.9" y1="2466.9" x2="1070.9" y2="2478.5" stroke="#000" stroke-width="4.5"/>
<line x1="1130.1" y1="2466.9" x2="1130.1" y2="2478.5" stroke="#000" stroke-width="4.5"/>
<line x1="330.4" y1="2914.5" x2="330.4" y2="2929" stroke="#000" stroke-width="4.5"/>
<line x1="419.2" y1="2914.5" x2="419.2" y2="2929" stroke="#000" stroke-width="4.5"/>
<line x1="508.1" y1="2914.5" x2="508.1" y2="2929" stroke="#000" stroke-width="4.5"/>
<line x1="596.9" y1="2914.5" x2="596.9" y2="2929" stroke="#000" stroke-width="4.5"/>
<line x1="685.8" y1="2914.5" x2="685.8" y2="2929" stroke="#000" stroke-width="4.5"/>
<line x1="774.7" y1="2914.5" x2="774.7" y2="2929" stroke="#000" stroke-width="4.5"/>
<line x1="863.5" y1="2914.5" x2="863.5" y2="2929" stroke="#000" stroke-width="4.5"/>
<line x1="952.4" y1="2914.5" x2="952.4" y2="2929" stroke="#000" stroke-width="4.5"/>
<line x1="1041.2" y1="2914.5" x2="1041.2" y2="2929" stroke="#000" stroke-width="4.5"/>
<line x1="1130.1" y1="2914.5" x2="1130.1" y2="2929" stroke="#000" stroke-width="4.5"/>
<text x="241.5" y="2963" font-family="'Liberation Serif', 'Times New Roman', serif" font-size="33" font-weight="bold" font-style="normal" text-anchor="middle" fill="#333" textLength="17.5" lengthAdjust="spacing">0</text>
<text x="330.4" y="2963" font-family="'Liberation Serif', 'Times New Roman', serif" font-size="33" font-weight="bold" font-style="normal" text-anchor="middle" fill="#333" textLength="17.5" lengthAdjust="spacing">3</text>
<text x="419.2" y="2963" font-family="'Liberation Serif', 'Times New Roman', serif" font-size="33" font-weight="bold" font-style="normal" text-anchor="middle" fill="#333" textLength="17.5" lengthAdjust="spacing">6</text>
<text x="508.1" y="2963" font-family="'Liberation Serif', 'Times New Roman', serif" font-size="33" font-weight="bold" font-style="normal" text-anchor="middle" fill="#333" textLength="17.5" lengthAdjust="spacing">9</text>
<text x="596.9" y="2963" font-family="'Liberation Serif', 'Times New Roman', serif" font-size="33" font-weight="bold" font-style="normal" text-anchor="middle" fill="#333" textLength="41" lengthAdjust="spacing">12</text>
<text x="685.8" y="2963" font-family="'Liberation Serif', 'Times New Roman', serif" font-size="33" font-weight="bold" font-style="normal" text-anchor="middle" fill="#333" textLength="41" lengthAdjust="spacing">15</text>
<text x="774.7" y="2963" font-family="'Liberation Serif', 'Times New Roman', serif" font-size="33" font-weight="bold" font-style="normal" text-anchor="middle" fill="#333" textLength="41" lengthAdjust="spacing">18</text>
<text x="863.5" y="2963" font-family="'Liberation Serif', 'Times New Roman', serif" font-size="33" font-weight="bold" font-style="normal" text-anchor="middle" fill="#333" textLength="41" lengthAdjust="spacing">21</text>
<text x="952.4" y="2963" font-family="'Liberation Serif', 'Times New Roman', serif" font-size="33" font-weight="bold" font-style="normal" text-anchor="middle" fill="#333" textLength="41" lengthAdjust="spacing">24</text>
<text x="1041.2" y="2963" font-family="'Liberation Serif', 'Times New Roman', serif" font-size="33" font-weight="bold" font-style="normal" text-anchor="middle" fill="#333" textLength="41" lengthAdjust="spacing">27</text>
<text x="1130.1" y="2963" font-family="'Liberation Serif', 'Times New Roman', serif" font-size="33" font-weight="bold" font-style="normal" text-anchor="middle" fill="#333" textLength="41" lengthAdjust="spacing">30</text>
<line x1="241.5" y1="2040.5" x2="241.5" y2="2917.5" stroke="#000" stroke-width="7.5"/>
<line x1="1156" y1="2040.5" x2="1156" y2="2917.5" stroke="#000" stroke-width="7.5"/>
<line x1="237.8" y1="2043.5" x2="1159.8" y2="2043.5" stroke="#000" stroke-width="6"/>
<line x1="237.8" y1="2478.5" x2="1159.8" y2="2478.5" stroke="#000" stroke-width="6"/>
<line x1="237.8" y1="2914.5" x2="1159.8" y2="2914.5" stroke="#000" stroke-width="6"/>
<text transform="translate(94 2292) rotate(-90)" x="0" y="0" font-family="'Liberation Serif', 'Times New Roman', serif" font-size="70" font-weight="normal" font-style="italic" text-anchor="middle" fill="#111" stroke="#111" stroke-width="1" textLength="383.6" lengthAdjust="spacingAndGlyphs">Cumulative Counts</text>
<text transform="translate(117 2725) rotate(-90)" x="0" y="0" font-family="'Liberation Serif', 'Times New Roman', serif" font-size="62" font-weight="normal" font-style="italic" text-anchor="middle" fill="#111" stroke="#111" stroke-width="1" textLength="141" lengthAdjust="spacingAndGlyphs">Counts</text>
<text transform="translate(467 3021) scale(1.3 1)" x="0" y="0" font-family="'Liberation Serif', 'Times New Roman', serif" font-size="33" font-weight="bold" font-style="italic" fill="#444" textLength="350.8" lengthAdjust="spacing">Spore diameter (μm)</text>
<text x="283" y="2143" font-family="'Liberation Serif', 'Times New Roman', serif" font-size="78" font-weight="bold" font-style="normal" text-anchor="start" fill="#000" textLength="127" lengthAdjust="spacingAndGlyphs">(v)</text>
<rect x="1527" y="2761" width="115" height="160.5" fill="url(#hB3)"/>
<rect x="1642" y="2761" width="115" height="160.5" fill="url(#hB3)"/>
<rect x="1757" y="2761" width="115" height="160.5" fill="url(#hB3)"/>
<rect x="1872" y="2601" width="115" height="320.5" fill="url(#hB3)"/>
<rect x="1987" y="2521" width="115" height="400.5" fill="url(#hB3)"/>
<rect x="2102" y="2601" width="115" height="320.5" fill="url(#hB3)"/>
<rect x="1527" y="2761" width="115" height="160.5" fill="none" stroke="#0000ff" stroke-width="3.6"/>
<rect x="1642" y="2761" width="115" height="160.5" fill="none" stroke="#0000ff" stroke-width="3.6"/>
<rect x="1757" y="2761" width="115" height="160.5" fill="none" stroke="#0000ff" stroke-width="3.6"/>
<rect x="1872" y="2601" width="115" height="320.5" fill="none" stroke="#0000ff" stroke-width="3.6"/>
<rect x="1987" y="2521" width="115" height="400.5" fill="none" stroke="#0000ff" stroke-width="3.6"/>
<rect x="2102" y="2601" width="115" height="320.5" fill="none" stroke="#0000ff" stroke-width="3.6"/>
<path d="M1412 2913 L1419.7 2912 L1427.3 2910.9 L1435 2909.7 L1442.7 2908.4 L1450.3 2907 L1458 2905.4 L1465.7 2903.7 L1473.3 2901.8 L1481 2899.7 L1488.7 2897.5 L1496.3 2895.1 L1504 2892.5 L1511.7 2889.7 L1519.3 2886.6 L1527 2883.3 L1534.7 2879.8 L1542.3 2876.1 L1550 2872 L1557.7 2867.8 L1565.3 2863.2 L1573 2858.3 L1580.7 2853.2 L1588.3 2847.8 L1596 2842 L1603.7 2836 L1611.3 2829.6 L1619 2823 L1626.7 2816 L1634.3 2808.8 L1642 2801.2 L1649.7 2793.3 L1657.3 2785.2 L1665 2776.8 L1672.7 2768.2 L1680.3 2759.3 L1688 2750.1 L1695.7 2740.8 L1703.3 2731.3 L1711 2721.6 L1718.7 2711.8 L1726.3 2701.9 L1734 2691.9 L1741.7 2681.9 L1749.3 2671.9 L1757 2661.8 L1764.7 2651.9 L1772.3 2642 L1780 2632.3 L1787.7 2622.7 L1795.3 2613.4 L1803 2604.3 L1810.7 2595.5 L1818.3 2587 L1826 2578.9 L1833.7 2571.1 L1841.3 2563.9 L1849 2557.1 L1856.7 2550.8 L1864.3 2545 L1872 2539.8 L1879.7 2535.2 L1887.3 2531.2 L1895 2527.9 L1902.7 2525.2 L1910.3 2523.1 L1918 2521.8 L1925.7 2521.1 L1933.3 2521.1 L1941 2521.8 L1948.7 2523.1 L1956.3 2525.2 L1964 2527.9 L1971.7 2531.2 L1979.3 2535.2 L1987 2539.8 L1994.7 2545 L2002.3 2550.8 L2010 2557.1 L2017.7 2563.9 L2025.3 2571.1 L2033 2578.9 L2040.7 2587 L2048.3 2595.5 L2056 2604.3 L2063.7 2613.4 L2071.3 2622.7 L2079 2632.3 L2086.7 2642 L2094.3 2651.9 L2102 2661.8 L2109.7 2671.9 L2117.3 2681.9 L2125 2691.9 L2132.7 2701.9 L2140.3 2711.8 L2148 2721.6 L2155.7 2731.3 L2163.3 2740.8 L2171 2750.1 L2178.7 2759.3 L2186.3 2768.2 L2194 2776.8 L2201.7 2785.2 L2209.3 2793.3 L2217 2801.2 L2224.7 2808.8 L2232.3 2816 L2240 2823 L2247.7 2829.6 L2255.3 2836 L2263 2842 L2270.7 2847.8 L2278.3 2853.2 L2286 2858.3 L2293.7 2863.2 L2301.3 2867.8 L2309 2872 L2316.7 2876.1 L2324.3 2879.8 L2332 2883.3" fill="none" stroke="#000" stroke-width="6" stroke-linejoin="round"/>
<path d="M1584.5 2448 L1591.7 2445.5 L1598.9 2443 L1606.1 2440.4 L1613.2 2437.9 L1620.4 2435.3 L1627.6 2432.7 L1634.8 2430.1 L1642 2427.5 L1649.2 2425 L1656.4 2422.5 L1663.6 2420 L1670.8 2417.6 L1677.9 2415.2 L1685.1 2412.9 L1692.3 2410.7 L1699.5 2408.6 L1706.7 2406.6 L1713.9 2404.7 L1721.1 2402.9 L1728.2 2401.2 L1735.4 2399.6 L1742.6 2397.9 L1749.8 2396.4 L1757 2394.8 L1764.2 2393.2 L1771.4 2391.6 L1778.6 2389.9 L1785.8 2388.1 L1792.9 2386.3 L1800.1 2384.3 L1807.3 2382.2 L1814.5 2380 L1821.7 2377.6 L1828.9 2375 L1836.1 2372.3 L1843.2 2369.4 L1850.4 2366.4 L1857.6 2363.3 L1864.8 2360 L1872 2356.7 L1879.2 2353.2 L1886.4 2349.7 L1893.6 2346.1 L1900.8 2342.5 L1907.9 2338.8 L1915.1 2335.1 L1922.3 2331.4 L1929.5 2327.7 L1936.7 2323.9 L1943.9 2320 L1951.1 2316 L1958.2 2311.8 L1965.4 2307.6 L1972.6 2303.3 L1979.8 2298.9 L1987 2294.5 L1994.2 2290.1 L2001.4 2285.6 L2008.6 2281.1 L2015.8 2276.6 L2022.9 2272.1 L2030.1 2267.7 L2037.3 2263.3 L2044.5 2259" fill="none" stroke="#000" stroke-width="4" stroke-linejoin="round"/>
<rect x="1574.5" y="2440" width="20" height="16" fill="#000"/>
<rect x="1689.5" y="2400.6" width="20" height="16" fill="#000"/>
<rect x="1804.5" y="2372" width="20" height="16" fill="#000"/>
<rect x="1919.5" y="2319.7" width="20" height="16" fill="#000"/>
<rect x="2034.5" y="2251" width="20" height="16" fill="#000"/>
<text x="1393" y="2055.5" font-family="'Liberation Sans', Arial, sans-serif" font-size="30" font-weight="bold" font-style="normal" text-anchor="end" fill="#3a3a3a" textLength="89.5" lengthAdjust="spacingAndGlyphs">99.9</text>
<line x1="1411" y1="2121.7" x2="1436" y2="2121.7" stroke="#000" stroke-width="3.6"/>
<line x1="2331" y1="2121.7" x2="2341" y2="2121.7" stroke="#000" stroke-width="3"/>
<text x="1393" y="2128.2" font-family="'Liberation Sans', Arial, sans-serif" font-size="30" font-weight="bold" font-style="normal" text-anchor="end" fill="#3a3a3a" textLength="50" lengthAdjust="spacingAndGlyphs">99</text>
<line x1="1411" y1="2184.4" x2="1436" y2="2184.4" stroke="#000" stroke-width="3.6"/>
<line x1="2331" y1="2184.4" x2="2341" y2="2184.4" stroke="#000" stroke-width="3"/>
<text x="1393" y="2190.9" font-family="'Liberation Sans', Arial, sans-serif" font-size="30" font-weight="bold" font-style="normal" text-anchor="end" fill="#3a3a3a" textLength="50" lengthAdjust="spacingAndGlyphs">95</text>
<line x1="1411" y1="2259" x2="1436" y2="2259" stroke="#000" stroke-width="3.6"/>
<line x1="2331" y1="2259" x2="2341" y2="2259" stroke="#000" stroke-width="3"/>
<text x="1393" y="2265.5" font-family="'Liberation Sans', Arial, sans-serif" font-size="30" font-weight="bold" font-style="normal" text-anchor="end" fill="#3a3a3a" textLength="50" lengthAdjust="spacingAndGlyphs">80</text>
<line x1="1411" y1="2311.5" x2="1436" y2="2311.5" stroke="#000" stroke-width="3.6"/>
<line x1="2331" y1="2311.5" x2="2341" y2="2311.5" stroke="#000" stroke-width="3"/>
<text x="1393" y="2318" font-family="'Liberation Sans', Arial, sans-serif" font-size="30" font-weight="bold" font-style="normal" text-anchor="end" fill="#3a3a3a" textLength="50" lengthAdjust="spacingAndGlyphs">60</text>
<line x1="1411" y1="2360" x2="1436" y2="2360" stroke="#000" stroke-width="3.6"/>
<line x1="2331" y1="2360" x2="2341" y2="2360" stroke="#000" stroke-width="3"/>
<text x="1393" y="2366.5" font-family="'Liberation Sans', Arial, sans-serif" font-size="30" font-weight="bold" font-style="normal" text-anchor="end" fill="#3a3a3a" textLength="50" lengthAdjust="spacingAndGlyphs">40</text>
<line x1="1411" y1="2411" x2="1436" y2="2411" stroke="#000" stroke-width="3.6"/>
<line x1="2331" y1="2411" x2="2341" y2="2411" stroke="#000" stroke-width="3"/>
<text x="1393" y="2417.5" font-family="'Liberation Sans', Arial, sans-serif" font-size="30" font-weight="bold" font-style="normal" text-anchor="end" fill="#3a3a3a" textLength="50" lengthAdjust="spacingAndGlyphs">20</text>
<text x="1393" y="2492.5" font-family="'Liberation Sans', Arial, sans-serif" font-size="30" font-weight="bold" font-style="normal" text-anchor="end" fill="#3a3a3a" textLength="23.5" lengthAdjust="spacingAndGlyphs">5</text>
<line x1="1411" y1="2921" x2="1422" y2="2921" stroke="#000" stroke-width="3"/>
<line x1="2331" y1="2921" x2="2341" y2="2921" stroke="#000" stroke-width="3"/>
<text x="1393" y="2927.5" font-family="'Liberation Sans', Arial, sans-serif" font-size="30" font-weight="bold" font-style="normal" text-anchor="end" fill="#3a3a3a" textLength="23.5" lengthAdjust="spacingAndGlyphs">0</text>
<line x1="1411" y1="2841" x2="1422" y2="2841" stroke="#000" stroke-width="3"/>
<line x1="2331" y1="2841" x2="2341" y2="2841" stroke="#000" stroke-width="3"/>
<line x1="1411" y1="2761" x2="1436" y2="2761" stroke="#000" stroke-width="3.6"/>
<line x1="2331" y1="2761" x2="2341" y2="2761" stroke="#000" stroke-width="3"/>
<text x="1393" y="2767.5" font-family="'Liberation Sans', Arial, sans-serif" font-size="30" font-weight="bold" font-style="normal" text-anchor="end" fill="#3a3a3a" textLength="23.5" lengthAdjust="spacingAndGlyphs">2</text>
<line x1="1411" y1="2681" x2="1422" y2="2681" stroke="#000" stroke-width="3"/>
<line x1="2331" y1="2681" x2="2341" y2="2681" stroke="#000" stroke-width="3"/>
<line x1="1411" y1="2601" x2="1436" y2="2601" stroke="#000" stroke-width="3.6"/>
<line x1="2331" y1="2601" x2="2341" y2="2601" stroke="#000" stroke-width="3"/>
<text x="1393" y="2607.5" font-family="'Liberation Sans', Arial, sans-serif" font-size="30" font-weight="bold" font-style="normal" text-anchor="end" fill="#3a3a3a" textLength="23.5" lengthAdjust="spacingAndGlyphs">4</text>
<line x1="1411" y1="2521" x2="1422" y2="2521" stroke="#000" stroke-width="3"/>
<line x1="2331" y1="2521" x2="2341" y2="2521" stroke="#000" stroke-width="3"/>
<line x1="1527" y1="2051" x2="1527" y2="2064.1" stroke="#000" stroke-width="4.5"/>
<line x1="1642" y1="2051" x2="1642" y2="2064.1" stroke="#000" stroke-width="4.5"/>
<line x1="1757" y1="2051" x2="1757" y2="2064.1" stroke="#000" stroke-width="4.5"/>
<line x1="1872" y1="2051" x2="1872" y2="2064.1" stroke="#000" stroke-width="4.5"/>
<line x1="1987" y1="2051" x2="1987" y2="2064.1" stroke="#000" stroke-width="4.5"/>
<line x1="2102" y1="2051" x2="2102" y2="2064.1" stroke="#000" stroke-width="4.5"/>
<line x1="2217" y1="2051" x2="2217" y2="2064.1" stroke="#000" stroke-width="4.5"/>
<line x1="1527" y1="2473.4" x2="1527" y2="2486.5" stroke="#000" stroke-width="4.5"/>
<line x1="1642" y1="2473.4" x2="1642" y2="2486.5" stroke="#000" stroke-width="4.5"/>
<line x1="1757" y1="2473.4" x2="1757" y2="2486.5" stroke="#000" stroke-width="4.5"/>
<line x1="1872" y1="2473.4" x2="1872" y2="2486.5" stroke="#000" stroke-width="4.5"/>
<line x1="1987" y1="2473.4" x2="1987" y2="2486.5" stroke="#000" stroke-width="4.5"/>
<line x1="2102" y1="2473.4" x2="2102" y2="2486.5" stroke="#000" stroke-width="4.5"/>
<line x1="2217" y1="2473.4" x2="2217" y2="2486.5" stroke="#000" stroke-width="4.5"/>
<line x1="1642" y1="2909.9" x2="1642" y2="2921.5" stroke="#000" stroke-width="4.5"/>
<line x1="1872" y1="2909.9" x2="1872" y2="2921.5" stroke="#000" stroke-width="4.5"/>
<line x1="2102" y1="2909.9" x2="2102" y2="2921.5" stroke="#000" stroke-width="4.5"/>
<text x="1412" y="2961" font-family="'Liberation Sans', Arial, sans-serif" font-size="30" font-weight="bold" font-style="normal" text-anchor="middle" fill="#3a3a3a" textLength="23.5" lengthAdjust="spacingAndGlyphs">0</text>
<text x="1642" y="2961" font-family="'Liberation Sans', Arial, sans-serif" font-size="30" font-weight="bold" font-style="normal" text-anchor="middle" fill="#3a3a3a" textLength="23.5" lengthAdjust="spacingAndGlyphs">4</text>
<text x="1872" y="2961" font-family="'Liberation Sans', Arial, sans-serif" font-size="30" font-weight="bold" font-style="normal" text-anchor="middle" fill="#3a3a3a" textLength="23.5" lengthAdjust="spacingAndGlyphs">8</text>
<text x="2102" y="2961" font-family="'Liberation Sans', Arial, sans-serif" font-size="30" font-weight="bold" font-style="normal" text-anchor="middle" fill="#3a3a3a" textLength="50" lengthAdjust="spacingAndGlyphs">12</text>
<text x="2332" y="2961" font-family="'Liberation Sans', Arial, sans-serif" font-size="30" font-weight="bold" font-style="normal" text-anchor="middle" fill="#3a3a3a" textLength="50" lengthAdjust="spacingAndGlyphs">16</text>
<line x1="1411" y1="2048" x2="1411" y2="2924.5" stroke="#000" stroke-width="7.5"/>
<line x1="2331" y1="2048" x2="2331" y2="2924.5" stroke="#000" stroke-width="7.5"/>
<line x1="1407.2" y1="2051" x2="2334.8" y2="2051" stroke="#000" stroke-width="6"/>
<line x1="1407.2" y1="2486.5" x2="2334.8" y2="2486.5" stroke="#000" stroke-width="6"/>
<line x1="1407.2" y1="2921.5" x2="2334.8" y2="2921.5" stroke="#000" stroke-width="6"/>
<text transform="translate(1262 2299) rotate(-90)" x="0" y="0" font-family="'Liberation Serif', 'Times New Roman', serif" font-size="70" font-weight="normal" font-style="italic" text-anchor="middle" fill="#111" stroke="#111" stroke-width="1" textLength="389" lengthAdjust="spacingAndGlyphs">Cumulative Counts</text>
<text transform="translate(1284.5 2735.5) rotate(-90)" x="0" y="0" font-family="'Liberation Serif', 'Times New Roman', serif" font-size="62" font-weight="normal" font-style="italic" text-anchor="middle" fill="#111" stroke="#111" stroke-width="1" textLength="141" lengthAdjust="spacingAndGlyphs">Counts</text>
<text transform="translate(1575 3017) scale(1.4 1)" x="0" y="0" font-family="'Liberation Serif', 'Times New Roman', serif" font-size="47" font-weight="bold" font-style="italic" fill="#111" textLength="420" lengthAdjust="spacing">Spore diameter (μm)</text>
<text x="1456.6" y="2143" font-family="'Liberation Serif', 'Times New Roman', serif" font-size="78" font-weight="bold" font-style="normal" text-anchor="start" fill="#000" textLength="161.9" lengthAdjust="spacingAndGlyphs">(vi)</text>
<rect x="244" y="3672.2" width="149.5" height="188.8" fill="url(#hB3)"/>
<rect x="393.5" y="3483.5" width="149.5" height="377.5" fill="url(#hB3)"/>
<rect x="692.5" y="3483.5" width="149.5" height="377.5" fill="url(#hB3)"/>
<rect x="842" y="3483.5" width="149.5" height="377.5" fill="url(#hB3)"/>
<rect x="244" y="3672.2" width="149.5" height="188.8" fill="none" stroke="#0000ff" stroke-width="3.6"/>
<rect x="393.5" y="3483.5" width="149.5" height="377.5" fill="none" stroke="#0000ff" stroke-width="3.6"/>
<rect x="692.5" y="3483.5" width="149.5" height="377.5" fill="none" stroke="#0000ff" stroke-width="3.6"/>
<rect x="842" y="3483.5" width="149.5" height="377.5" fill="none" stroke="#0000ff" stroke-width="3.6"/>
<path d="M244 3753.2 L251.5 3748.4 L258.9 3743.5 L266.4 3738.4 L273.9 3733.3 L281.4 3728 L288.9 3722.6 L296.3 3717.1 L303.8 3711.5 L311.3 3705.8 L318.8 3700 L326.2 3694.1 L333.7 3688.2 L341.2 3682.1 L348.6 3676 L356.1 3669.9 L363.6 3663.6 L371.1 3657.4 L378.5 3651.1 L386 3644.7 L393.5 3638.4 L401 3632 L408.4 3625.7 L415.9 3619.3 L423.4 3613 L430.9 3606.7 L438.4 3600.4 L445.8 3594.2 L453.3 3588.1 L460.8 3582 L468.2 3576 L475.7 3570.2 L483.2 3564.4 L490.7 3558.7 L498.1 3553.2 L505.6 3547.8 L513.1 3542.6 L520.6 3537.5 L528 3532.6 L535.5 3527.9 L543 3523.3 L550.5 3519 L558 3514.9 L565.4 3511 L572.9 3507.3 L580.4 3503.9 L587.8 3500.7 L595.3 3497.8 L602.8 3495.1 L610.3 3492.7 L617.8 3490.6 L625.2 3488.7 L632.7 3487.1 L640.2 3485.8 L647.6 3484.8 L655.1 3484.1 L662.6 3483.6 L670.1 3483.5 L677.5 3483.6 L685 3484.1 L692.5 3484.8 L700 3485.8 L707.5 3487.1 L714.9 3488.7 L722.4 3490.6 L729.9 3492.7 L737.3 3495.1 L744.8 3497.8 L752.3 3500.7 L759.8 3503.9 L767.2 3507.3 L774.7 3511 L782.2 3514.9 L789.7 3519 L797.1 3523.3 L804.6 3527.9 L812.1 3532.6 L819.6 3537.5 L827 3542.6 L834.5 3547.8 L842 3553.2 L849.5 3558.7 L856.9 3564.4 L864.4 3570.2 L871.9 3576 L879.4 3582 L886.9 3588.1 L894.3 3594.2 L901.8 3600.4 L909.3 3606.7 L916.8 3613 L924.2 3619.3 L931.7 3625.7 L939.2 3632 L946.6 3638.4 L954.1 3644.7 L961.6 3651.1 L969.1 3657.4 L976.5 3663.6 L984 3669.9 L991.5 3676 L999 3682.1 L1006.4 3688.2 L1013.9 3694.1 L1021.4 3700 L1028.9 3705.8 L1036.3 3711.5 L1043.8 3717.1 L1051.3 3722.6 L1058.8 3728 L1066.2 3733.3 L1073.7 3738.4 L1081.2 3743.5 L1088.7 3748.4 L1096.2 3753.2 L1103.6 3757.9 L1111.1 3762.4 L1118.6 3766.9 L1126 3771.2 L1133.5 3775.3 L1141 3779.4" fill="none" stroke="#000" stroke-width="5" stroke-linejoin="round"/>
<path d="M320 3404 L321.2 3403.5 L322.5 3402.9 L323.8 3402.4 L325 3401.9 L326.2 3401.4 L327.5 3400.9 L328.8 3400.3 L330 3399.8 L331.2 3399.3 L332.5 3398.8 L333.8 3398.2 L335 3397.7 L336.2 3397.2 L337.5 3396.6 L338.8 3396.1 L340 3395.5 L342.3 3394.4 L344.6 3393.3 L346.9 3392.1 L349.2 3391 L351.6 3389.8 L353.9 3388.5 L356.2 3387.3 L358.5 3386.1 L360.8 3384.9 L363.1 3383.6 L365.4 3382.5 L367.8 3381.3 L370.1 3380.1 L372.4 3379.1 L374.7 3378 L377 3377 L379.1 3376.2 L381.1 3375.3 L383.2 3374.6 L385.2 3373.8 L387.3 3373.1 L389.4 3372.4 L391.4 3371.6 L393.5 3370.9 L395.6 3370.2 L397.6 3369.5 L399.7 3368.8 L401.8 3368.1 L403.8 3367.4 L405.9 3366.6 L407.9 3365.8 L410 3365 L412.6 3363.9 L415.1 3362.8 L417.7 3361.7 L420.2 3360.5 L422.8 3359.3 L425.4 3358 L427.9 3356.8 L430.5 3355.5 L433.1 3354.3 L435.6 3353 L438.2 3351.8 L440.8 3350.5 L443.3 3349.4 L445.9 3348.2 L448.4 3347.1 L451 3346 L452 3345.6 L453 3345.2 L454 3344.7 L455 3344.3 L456 3343.9 L457 3343.5 L458 3343.1 L459 3342.7 L460 3342.3 L461 3341.9 L462 3341.5 L463 3341.2 L464 3340.8 L465 3340.5 L466 3340.3 L467 3340 L471.1 3339.1 L475.2 3338.2 L479.4 3337.4 L483.5 3336.7 L487.6 3336 L491.8 3335.4 L495.9 3334.8 L500 3334.3 L504.1 3333.8 L508.2 3333.2 L512.4 3332.7 L516.5 3332.2 L520.6 3331.7 L524.8 3331.2 L528.9 3330.6 L533 3330 L537.2 3329.4 L541.4 3328.8 L545.6 3328.2 L549.8 3327.6 L553.9 3327 L558.1 3326.5 L562.3 3325.9 L566.5 3325.3 L570.7 3324.7 L574.9 3324.1 L579.1 3323.5 L583.2 3322.9 L587.4 3322.2 L591.6 3321.5 L595.8 3320.8 L600 3320 L605.1 3319 L610.2 3318 L615.4 3316.9 L620.5 3315.8 L625.6 3314.6 L630.8 3313.3 L635.9 3312.1 L641 3310.8 L646.1 3309.4 L651.2 3308 L656.4 3306.6 L661.5 3305.1 L666.6 3303.6 L671.8 3302.1 L676.9 3300.6 L682 3299 L687.3 3297.3 L692.6 3295.5 L697.9 3293.6 L703.2 3291.6 L708.6 3289.6 L713.9 3287.5 L719.2 3285.4 L724.5 3283.2 L729.8 3281 L735.1 3278.7 L740.4 3276.5 L745.8 3274.3 L751.1 3272.1 L756.4 3269.9 L761.7 3267.7 L767 3265.6" fill="none" stroke="#000" stroke-width="3" stroke-linejoin="round"/>
<rect x="308.8" y="3397" width="20" height="16" fill="#000"/>
<rect x="458.2" y="3320" width="20" height="16" fill="#000"/>
<rect x="607.8" y="3320" width="20" height="16" fill="#000"/>
<rect x="757.2" y="3257.6" width="20" height="16" fill="#000"/>
<text x="221" y="3054" font-family="'Liberation Sans', Arial, sans-serif" font-size="34" font-weight="bold" font-style="normal" text-anchor="end" fill="#404040" textLength="85" lengthAdjust="spacingAndGlyphs">99.9</text>
<line x1="245.5" y1="3116" x2="270.5" y2="3116" stroke="#000" stroke-width="3.6"/>
<line x1="1140" y1="3116" x2="1150" y2="3116" stroke="#000" stroke-width="3"/>
<text x="221" y="3122" font-family="'Liberation Sans', Arial, sans-serif" font-size="34" font-weight="bold" font-style="normal" text-anchor="end" fill="#404040" textLength="48" lengthAdjust="spacingAndGlyphs">99</text>
<line x1="245.5" y1="3172" x2="270.5" y2="3172" stroke="#000" stroke-width="3.6"/>
<line x1="1140" y1="3172" x2="1150" y2="3172" stroke="#000" stroke-width="3"/>
<text x="221" y="3178" font-family="'Liberation Sans', Arial, sans-serif" font-size="34" font-weight="bold" font-style="normal" text-anchor="end" fill="#404040" textLength="48" lengthAdjust="spacingAndGlyphs">95</text>
<line x1="245.5" y1="3244" x2="270.5" y2="3244" stroke="#000" stroke-width="3.6"/>
<line x1="1140" y1="3244" x2="1150" y2="3244" stroke="#000" stroke-width="3"/>
<text x="221" y="3250" font-family="'Liberation Sans', Arial, sans-serif" font-size="34" font-weight="bold" font-style="normal" text-anchor="end" fill="#404040" textLength="48" lengthAdjust="spacingAndGlyphs">80</text>
<line x1="245.5" y1="3292" x2="270.5" y2="3292" stroke="#000" stroke-width="3.6"/>
<line x1="1140" y1="3292" x2="1150" y2="3292" stroke="#000" stroke-width="3"/>
<text x="221" y="3298" font-family="'Liberation Sans', Arial, sans-serif" font-size="34" font-weight="bold" font-style="normal" text-anchor="end" fill="#404040" textLength="48" lengthAdjust="spacingAndGlyphs">60</text>
<line x1="245.5" y1="3334" x2="270.5" y2="3334" stroke="#000" stroke-width="3.6"/>
<line x1="1140" y1="3334" x2="1150" y2="3334" stroke="#000" stroke-width="3"/>
<text x="221" y="3340" font-family="'Liberation Sans', Arial, sans-serif" font-size="34" font-weight="bold" font-style="normal" text-anchor="end" fill="#404040" textLength="48" lengthAdjust="spacingAndGlyphs">40</text>
<line x1="245.5" y1="3386" x2="270.5" y2="3386" stroke="#000" stroke-width="3.6"/>
<line x1="1140" y1="3386" x2="1150" y2="3386" stroke="#000" stroke-width="3"/>
<text x="221" y="3392" font-family="'Liberation Sans', Arial, sans-serif" font-size="34" font-weight="bold" font-style="normal" text-anchor="end" fill="#404040" textLength="48" lengthAdjust="spacingAndGlyphs">20</text>
<text x="221" y="3458" font-family="'Liberation Sans', Arial, sans-serif" font-size="34" font-weight="bold" font-style="normal" text-anchor="end" fill="#404040" textLength="23" lengthAdjust="spacingAndGlyphs">5</text>
<line x1="245.5" y1="3861" x2="256.5" y2="3861" stroke="#000" stroke-width="3"/>
<line x1="1140" y1="3861" x2="1150" y2="3861" stroke="#000" stroke-width="3"/>
<text x="221" y="3867" font-family="'Liberation Sans', Arial, sans-serif" font-size="34" font-weight="bold" font-style="normal" text-anchor="end" fill="#404040" textLength="23" lengthAdjust="spacingAndGlyphs">0</text>
<line x1="245.5" y1="3766.6" x2="256.5" y2="3766.6" stroke="#000" stroke-width="3"/>
<line x1="1140" y1="3766.6" x2="1150" y2="3766.6" stroke="#000" stroke-width="3"/>
<line x1="245.5" y1="3672.2" x2="270.5" y2="3672.2" stroke="#000" stroke-width="3.6"/>
<line x1="1140" y1="3672.2" x2="1150" y2="3672.2" stroke="#000" stroke-width="3"/>
<text x="221" y="3678.2" font-family="'Liberation Sans', Arial, sans-serif" font-size="34" font-weight="bold" font-style="normal" text-anchor="end" fill="#404040" textLength="23" lengthAdjust="spacingAndGlyphs">1</text>
<line x1="245.5" y1="3577.9" x2="256.5" y2="3577.9" stroke="#000" stroke-width="3"/>
<line x1="1140" y1="3577.9" x2="1150" y2="3577.9" stroke="#000" stroke-width="3"/>
<line x1="245.5" y1="3483.5" x2="270.5" y2="3483.5" stroke="#000" stroke-width="3.6"/>
<line x1="1140" y1="3483.5" x2="1150" y2="3483.5" stroke="#000" stroke-width="3"/>
<text x="221" y="3489.5" font-family="'Liberation Sans', Arial, sans-serif" font-size="34" font-weight="bold" font-style="normal" text-anchor="end" fill="#404040" textLength="23" lengthAdjust="spacingAndGlyphs">2</text>
<line x1="393.5" y1="3051" x2="393.5" y2="3058.2" stroke="#000" stroke-width="4.5"/>
<line x1="543" y1="3051" x2="543" y2="3062.6" stroke="#000" stroke-width="4.5"/>
<line x1="692.5" y1="3051" x2="692.5" y2="3058.2" stroke="#000" stroke-width="4.5"/>
<line x1="842" y1="3051" x2="842" y2="3062.6" stroke="#000" stroke-width="4.5"/>
<line x1="991.5" y1="3051" x2="991.5" y2="3058.2" stroke="#000" stroke-width="4.5"/>
<line x1="393.5" y1="3446.2" x2="393.5" y2="3453.5" stroke="#000" stroke-width="4.5"/>
<line x1="543" y1="3441.9" x2="543" y2="3453.5" stroke="#000" stroke-width="4.5"/>
<line x1="692.5" y1="3446.2" x2="692.5" y2="3453.5" stroke="#000" stroke-width="4.5"/>
<line x1="842" y1="3441.9" x2="842" y2="3453.5" stroke="#000" stroke-width="4.5"/>
<line x1="991.5" y1="3446.2" x2="991.5" y2="3453.5" stroke="#000" stroke-width="4.5"/>
<line x1="393.5" y1="3849.4" x2="393.5" y2="3861" stroke="#000" stroke-width="4.5"/>
<line x1="543" y1="3849.4" x2="543" y2="3861" stroke="#000" stroke-width="4.5"/>
<line x1="692.5" y1="3849.4" x2="692.5" y2="3861" stroke="#000" stroke-width="4.5"/>
<line x1="842" y1="3849.4" x2="842" y2="3861" stroke="#000" stroke-width="4.5"/>
<line x1="991.5" y1="3849.4" x2="991.5" y2="3861" stroke="#000" stroke-width="4.5"/>
<text x="244" y="3898" font-family="'Liberation Sans', Arial, sans-serif" font-size="34" font-weight="bold" font-style="normal" text-anchor="middle" fill="#404040" textLength="23" lengthAdjust="spacingAndGlyphs">0</text>
<text x="393.5" y="3898" font-family="'Liberation Sans', Arial, sans-serif" font-size="34" font-weight="bold" font-style="normal" text-anchor="middle" fill="#404040" textLength="23" lengthAdjust="spacingAndGlyphs">5</text>
<text x="543" y="3898" font-family="'Liberation Sans', Arial, sans-serif" font-size="34" font-weight="bold" font-style="normal" text-anchor="middle" fill="#404040" textLength="48" lengthAdjust="spacingAndGlyphs">10</text>
<text x="692.5" y="3898" font-family="'Liberation Sans', Arial, sans-serif" font-size="34" font-weight="bold" font-style="normal" text-anchor="middle" fill="#404040" textLength="48" lengthAdjust="spacingAndGlyphs">15</text>
<text x="842" y="3898" font-family="'Liberation Sans', Arial, sans-serif" font-size="34" font-weight="bold" font-style="normal" text-anchor="middle" fill="#404040" textLength="48" lengthAdjust="spacingAndGlyphs">20</text>
<text x="991.5" y="3898" font-family="'Liberation Sans', Arial, sans-serif" font-size="34" font-weight="bold" font-style="normal" text-anchor="middle" fill="#404040" textLength="48" lengthAdjust="spacingAndGlyphs">25</text>
<text x="1141" y="3898" font-family="'Liberation Sans', Arial, sans-serif" font-size="34" font-weight="bold" font-style="normal" text-anchor="middle" fill="#404040" textLength="48" lengthAdjust="spacingAndGlyphs">30</text>
<line x1="245.5" y1="3048" x2="245.5" y2="3864" stroke="#000" stroke-width="7.5"/>
<line x1="1140" y1="3048" x2="1140" y2="3864" stroke="#000" stroke-width="7.5"/>
<line x1="241.8" y1="3051" x2="1143.8" y2="3051" stroke="#000" stroke-width="6"/>
<line x1="241.8" y1="3453.5" x2="1143.8" y2="3453.5" stroke="#000" stroke-width="6"/>
<line x1="241.8" y1="3861" x2="1143.8" y2="3861" stroke="#000" stroke-width="6"/>
<text transform="translate(98 3264) rotate(-90)" x="0" y="0" font-family="'Liberation Serif', 'Times New Roman', serif" font-size="70" font-weight="normal" font-style="italic" text-anchor="middle" fill="#111" stroke="#111" stroke-width="1" textLength="356.6" lengthAdjust="spacingAndGlyphs">Cumulative Counts</text>
<text transform="translate(119 3685.5) rotate(-90)" x="0" y="0" font-family="'Liberation Serif', 'Times New Roman', serif" font-size="62" font-weight="normal" font-style="italic" text-anchor="middle" fill="#111" stroke="#111" stroke-width="1" textLength="131" lengthAdjust="spacingAndGlyphs">Counts</text>
<text transform="translate(399 3963) scale(1.3 1)" x="0" y="0" font-family="'Liberation Serif', 'Times New Roman', serif" font-size="44" font-weight="bold" font-style="italic" fill="#222" textLength="441.5" lengthAdjust="spacing">Spore diameter (μm)</text>
<text x="283" y="3137" font-family="'Liberation Serif', 'Times New Roman', serif" font-size="78" font-weight="bold" font-style="normal" text-anchor="start" fill="#000" textLength="196.5" lengthAdjust="spacingAndGlyphs">(vii)</text>
<rect x="1606.7" y="3482" width="90.7" height="372.5" fill="url(#hB3)"/>
<rect x="1697.4" y="3730" width="90.7" height="124.5" fill="url(#hB3)"/>
<rect x="1878.8" y="3606" width="90.7" height="248.5" fill="url(#hB3)"/>
<rect x="1969.5" y="3730" width="90.7" height="124.5" fill="url(#hB3)"/>
<rect x="2060.2" y="3482" width="90.7" height="372.5" fill="url(#hB3)"/>
<rect x="1606.7" y="3482" width="90.7" height="372.5" fill="none" stroke="#0000ff" stroke-width="3.6"/>
<rect x="1697.4" y="3730" width="90.7" height="124.5" fill="none" stroke="#0000ff" stroke-width="3.6"/>
<rect x="1878.8" y="3606" width="90.7" height="248.5" fill="none" stroke="#0000ff" stroke-width="3.6"/>
<rect x="1969.5" y="3730" width="90.7" height="124.5" fill="none" stroke="#0000ff" stroke-width="3.6"/>
<rect x="2060.2" y="3482" width="90.7" height="372.5" fill="none" stroke="#0000ff" stroke-width="3.6"/>
<path d="M1425.3 3837.4 L1432.9 3835.6 L1440.4 3833.6 L1448 3831.5 L1455.5 3829.2 L1463.1 3826.7 L1470.6 3823.9 L1478.2 3821 L1485.8 3817.9 L1493.3 3814.5 L1500.9 3810.9 L1508.4 3807 L1516 3802.9 L1523.6 3798.5 L1531.1 3793.8 L1538.7 3788.9 L1546.2 3783.7 L1553.8 3778.2 L1561.3 3772.4 L1568.9 3766.3 L1576.5 3759.9 L1584 3753.3 L1591.6 3746.3 L1599.1 3739.1 L1606.7 3731.6 L1614.3 3723.9 L1621.8 3715.9 L1629.4 3707.6 L1636.9 3699.2 L1644.5 3690.5 L1652 3681.7 L1659.6 3672.7 L1667.2 3663.5 L1674.7 3654.3 L1682.3 3644.9 L1689.8 3635.5 L1697.4 3626.1 L1705 3616.7 L1712.5 3607.3 L1720.1 3598 L1727.6 3588.8 L1735.2 3579.8 L1742.8 3571 L1750.3 3562.3 L1757.9 3554 L1765.4 3545.9 L1773 3538.2 L1780.5 3530.8 L1788.1 3523.9 L1795.7 3517.4 L1803.2 3511.3 L1810.8 3505.8 L1818.3 3500.8 L1825.9 3496.3 L1833.5 3492.4 L1841 3489.1 L1848.6 3486.4 L1856.1 3484.4 L1863.7 3482.9 L1871.2 3482.2 L1878.8 3482 L1886.4 3482.5 L1893.9 3483.7 L1901.5 3485.5 L1909 3488 L1916.6 3491 L1924.2 3494.7 L1931.7 3498.9 L1939.3 3503.7 L1946.8 3509 L1954.4 3514.9 L1961.9 3521.2 L1969.5 3528 L1977.1 3535.2 L1984.6 3542.8 L1992.2 3550.7 L1999.7 3559 L2007.3 3567.5 L2014.8 3576.2 L2022.4 3585.2 L2030 3594.3 L2037.5 3603.6 L2045.1 3612.9 L2052.6 3622.3 L2060.2 3631.8 L2067.8 3641.2 L2075.3 3650.5 L2082.9 3659.8 L2090.4 3669 L2098 3678.1 L2105.6 3687 L2113.1 3695.7 L2120.7 3704.3 L2128.2 3712.6 L2135.8 3720.7 L2143.3 3728.6 L2150.9 3736.2 L2158.5 3743.5 L2166 3750.5 L2173.6 3757.3 L2181.1 3763.8 L2188.7 3770 L2196.2 3775.9 L2203.8 3781.5 L2211.4 3786.9 L2218.9 3791.9 L2226.5 3796.7 L2234 3801.2 L2241.6 3805.4 L2249.2 3809.4 L2256.7 3813.1 L2264.3 3816.6 L2271.8 3819.8 L2279.4 3822.8 L2286.9 3825.6 L2294.5 3828.2 L2302.1 3830.6 L2309.6 3832.8 L2317.2 3834.8 L2324.7 3836.7 L2332.3 3838.4" fill="none" stroke="#000" stroke-width="5" stroke-linejoin="round"/>
<path d="M1652 3263.5 L1657.7 3262.5 L1663.4 3261.4 L1669.1 3260.2 L1674.7 3258.9 L1680.4 3257.6 L1686.1 3256.3 L1691.7 3255 L1697.4 3253.8 L1703.1 3252.6 L1708.7 3251.5 L1714.4 3250.6 L1720.1 3249.7 L1725.7 3249 L1731.4 3248.5 L1737.1 3248.1 L1742.8 3248 L1748.4 3248 L1754.1 3248 L1759.8 3248.1 L1765.4 3248.1 L1771.1 3248.2 L1776.8 3248.3 L1782.4 3248.3 L1788.1 3248.4 L1793.8 3248.5 L1799.4 3248.5 L1805.1 3248.6 L1810.8 3248.7 L1816.4 3248.7 L1822.1 3248.8 L1827.8 3248.8 L1833.5 3248.8 L1839.1 3248.5 L1844.8 3247.8 L1850.5 3246.6 L1856.1 3245 L1861.8 3243.1 L1867.5 3240.9 L1873.1 3238.6 L1878.8 3236.1 L1884.5 3233.5 L1890.1 3230.9 L1895.8 3228.3 L1901.5 3225.8 L1907.1 3223.5 L1912.8 3221.4 L1918.5 3219.5 L1924.2 3218 L1929.8 3216.7 L1935.5 3215.5 L1941.2 3214.3 L1946.8 3213.2 L1952.5 3212.1 L1958.2 3211.1 L1963.8 3210.1 L1969.5 3209.1 L1975.2 3208.2 L1980.8 3207.2 L1986.5 3206.3 L1992.2 3205.4 L1997.8 3204.5 L2003.5 3203.5 L2009.2 3202.5 L2014.8 3201.5" fill="none" stroke="#000" stroke-width="3" stroke-linejoin="round"/>
<rect x="1642" y="3255.5" width="20" height="16" fill="#000"/>
<rect x="1732.8" y="3240" width="20" height="16" fill="#000"/>
<rect x="1823.5" y="3240.8" width="20" height="16" fill="#000"/>
<rect x="1914.2" y="3210" width="20" height="16" fill="#000"/>
<rect x="2004.8" y="3193.5" width="20" height="16" fill="#000"/>
<text x="1401" y="3061" font-family="'Liberation Sans', Arial, sans-serif" font-size="34" font-weight="bold" font-style="normal" text-anchor="end" fill="#4a4a4a" textLength="86.5" lengthAdjust="spacingAndGlyphs">99.9</text>
<line x1="1424.5" y1="3097" x2="1449.5" y2="3097" stroke="#000" stroke-width="3.6"/>
<line x1="2331.5" y1="3097" x2="2341.5" y2="3097" stroke="#000" stroke-width="3"/>
<text x="1401" y="3108" font-family="'Liberation Sans', Arial, sans-serif" font-size="34" font-weight="bold" font-style="normal" text-anchor="end" fill="#4a4a4a" textLength="49" lengthAdjust="spacingAndGlyphs">99</text>
<line x1="1424.5" y1="3135" x2="1449.5" y2="3135" stroke="#000" stroke-width="3.6"/>
<line x1="2331.5" y1="3135" x2="2341.5" y2="3135" stroke="#000" stroke-width="3"/>
<text x="1401" y="3146" font-family="'Liberation Sans', Arial, sans-serif" font-size="34" font-weight="bold" font-style="normal" text-anchor="end" fill="#4a4a4a" textLength="49" lengthAdjust="spacingAndGlyphs">95</text>
<line x1="1424.5" y1="3184.4" x2="1449.5" y2="3184.4" stroke="#000" stroke-width="3.6"/>
<line x1="2331.5" y1="3184.4" x2="2341.5" y2="3184.4" stroke="#000" stroke-width="3"/>
<text x="1401" y="3195.4" font-family="'Liberation Sans', Arial, sans-serif" font-size="34" font-weight="bold" font-style="normal" text-anchor="end" fill="#4a4a4a" textLength="49" lengthAdjust="spacingAndGlyphs">80</text>
<line x1="1424.5" y1="3217" x2="1449.5" y2="3217" stroke="#000" stroke-width="3.6"/>
<line x1="2331.5" y1="3217" x2="2341.5" y2="3217" stroke="#000" stroke-width="3"/>
<text x="1401" y="3228" font-family="'Liberation Sans', Arial, sans-serif" font-size="34" font-weight="bold" font-style="normal" text-anchor="end" fill="#4a4a4a" textLength="49" lengthAdjust="spacingAndGlyphs">60</text>
<line x1="1424.5" y1="3249" x2="1449.5" y2="3249" stroke="#000" stroke-width="3.6"/>
<line x1="2331.5" y1="3249" x2="2341.5" y2="3249" stroke="#000" stroke-width="3"/>
<text x="1401" y="3260" font-family="'Liberation Sans', Arial, sans-serif" font-size="34" font-weight="bold" font-style="normal" text-anchor="end" fill="#4a4a4a" textLength="49" lengthAdjust="spacingAndGlyphs">40</text>
<line x1="1424.5" y1="3281.5" x2="1449.5" y2="3281.5" stroke="#000" stroke-width="3.6"/>
<line x1="2331.5" y1="3281.5" x2="2341.5" y2="3281.5" stroke="#000" stroke-width="3"/>
<text x="1401" y="3292.5" font-family="'Liberation Sans', Arial, sans-serif" font-size="34" font-weight="bold" font-style="normal" text-anchor="end" fill="#4a4a4a" textLength="49" lengthAdjust="spacingAndGlyphs">20</text>
<line x1="1424.5" y1="3331" x2="1449.5" y2="3331" stroke="#000" stroke-width="3.6"/>
<line x1="2331.5" y1="3331" x2="2341.5" y2="3331" stroke="#000" stroke-width="3"/>
<text x="1401" y="3342" font-family="'Liberation Sans', Arial, sans-serif" font-size="34" font-weight="bold" font-style="normal" text-anchor="end" fill="#4a4a4a" textLength="23.5" lengthAdjust="spacingAndGlyphs">5</text>
<line x1="1424.5" y1="3371" x2="1449.5" y2="3371" stroke="#000" stroke-width="3.6"/>
<line x1="2331.5" y1="3371" x2="2341.5" y2="3371" stroke="#000" stroke-width="3"/>
<text x="1401" y="3382" font-family="'Liberation Sans', Arial, sans-serif" font-size="34" font-weight="bold" font-style="normal" text-anchor="end" fill="#4a4a4a" textLength="23.5" lengthAdjust="spacingAndGlyphs">1</text>
<line x1="1424.5" y1="3415" x2="1449.5" y2="3415" stroke="#000" stroke-width="3.6"/>
<line x1="2331.5" y1="3415" x2="2341.5" y2="3415" stroke="#000" stroke-width="3"/>
<text x="1401" y="3426" font-family="'Liberation Sans', Arial, sans-serif" font-size="34" font-weight="bold" font-style="normal" text-anchor="end" fill="#4a4a4a" textLength="61" lengthAdjust="spacingAndGlyphs">0.1</text>
<text x="1401" y="3462" font-family="'Liberation Sans', Arial, sans-serif" font-size="34" font-weight="bold" font-style="normal" text-anchor="end" fill="#4a4a4a" textLength="86.5" lengthAdjust="spacingAndGlyphs">0.01</text>
<line x1="1424.5" y1="3854" x2="1435.5" y2="3854" stroke="#000" stroke-width="3"/>
<line x1="2331.5" y1="3854" x2="2341.5" y2="3854" stroke="#000" stroke-width="3"/>
<text x="1401" y="3865" font-family="'Liberation Sans', Arial, sans-serif" font-size="34" font-weight="bold" font-style="normal" text-anchor="end" fill="#4a4a4a" textLength="23.5" lengthAdjust="spacingAndGlyphs">0</text>
<line x1="1424.5" y1="3730" x2="1435.5" y2="3730" stroke="#000" stroke-width="3"/>
<line x1="2331.5" y1="3730" x2="2341.5" y2="3730" stroke="#000" stroke-width="3"/>
<line x1="1424.5" y1="3606" x2="1449.5" y2="3606" stroke="#000" stroke-width="3.6"/>
<line x1="2331.5" y1="3606" x2="2341.5" y2="3606" stroke="#000" stroke-width="3"/>
<text x="1401" y="3617" font-family="'Liberation Sans', Arial, sans-serif" font-size="34" font-weight="bold" font-style="normal" text-anchor="end" fill="#4a4a4a" textLength="23.5" lengthAdjust="spacingAndGlyphs">2</text>
<line x1="1424.5" y1="3482" x2="1435.5" y2="3482" stroke="#000" stroke-width="3"/>
<line x1="2331.5" y1="3482" x2="2341.5" y2="3482" stroke="#000" stroke-width="3"/>
<line x1="1516" y1="3051" x2="1516" y2="3064.1" stroke="#000" stroke-width="4.5"/>
<line x1="1606.7" y1="3051" x2="1606.7" y2="3064.1" stroke="#000" stroke-width="4.5"/>
<line x1="1697.4" y1="3051" x2="1697.4" y2="3064.1" stroke="#000" stroke-width="4.5"/>
<line x1="1788.1" y1="3051" x2="1788.1" y2="3064.1" stroke="#000" stroke-width="4.5"/>
<line x1="1878.8" y1="3051" x2="1878.8" y2="3064.1" stroke="#000" stroke-width="4.5"/>
<line x1="1969.5" y1="3051" x2="1969.5" y2="3064.1" stroke="#000" stroke-width="4.5"/>
<line x1="2060.2" y1="3051" x2="2060.2" y2="3064.1" stroke="#000" stroke-width="4.5"/>
<line x1="2150.9" y1="3051" x2="2150.9" y2="3064.1" stroke="#000" stroke-width="4.5"/>
<line x1="2241.6" y1="3051" x2="2241.6" y2="3064.1" stroke="#000" stroke-width="4.5"/>
<line x1="1516" y1="3440.9" x2="1516" y2="3454" stroke="#000" stroke-width="4.5"/>
<line x1="1606.7" y1="3440.9" x2="1606.7" y2="3471.4" stroke="#000" stroke-width="4.5"/>
<line x1="1697.4" y1="3440.9" x2="1697.4" y2="3454" stroke="#000" stroke-width="4.5"/>
<line x1="1788.1" y1="3440.9" x2="1788.1" y2="3471.4" stroke="#000" stroke-width="4.5"/>
<line x1="1878.8" y1="3440.9" x2="1878.8" y2="3454" stroke="#000" stroke-width="4.5"/>
<line x1="1969.5" y1="3440.9" x2="1969.5" y2="3471.4" stroke="#000" stroke-width="4.5"/>
<line x1="2060.2" y1="3440.9" x2="2060.2" y2="3454" stroke="#000" stroke-width="4.5"/>
<line x1="2150.9" y1="3440.9" x2="2150.9" y2="3471.4" stroke="#000" stroke-width="4.5"/>
<line x1="2241.6" y1="3440.9" x2="2241.6" y2="3454" stroke="#000" stroke-width="4.5"/>
<line x1="1606.7" y1="3842.9" x2="1606.7" y2="3854.5" stroke="#000" stroke-width="4.5"/>
<line x1="1788.1" y1="3842.9" x2="1788.1" y2="3854.5" stroke="#000" stroke-width="4.5"/>
<line x1="1969.5" y1="3842.9" x2="1969.5" y2="3854.5" stroke="#000" stroke-width="4.5"/>
<line x1="2150.9" y1="3842.9" x2="2150.9" y2="3854.5" stroke="#000" stroke-width="4.5"/>
<text x="1425.3" y="3891" font-family="'Liberation Sans', Arial, sans-serif" font-size="34" font-weight="bold" font-style="normal" text-anchor="middle" fill="#4a4a4a" textLength="23.5" lengthAdjust="spacingAndGlyphs">0</text>
<text x="1606.7" y="3891" font-family="'Liberation Sans', Arial, sans-serif" font-size="34" font-weight="bold" font-style="normal" text-anchor="middle" fill="#4a4a4a" textLength="23.5" lengthAdjust="spacingAndGlyphs">4</text>
<text x="1788.1" y="3891" font-family="'Liberation Sans', Arial, sans-serif" font-size="34" font-weight="bold" font-style="normal" text-anchor="middle" fill="#4a4a4a" textLength="23.5" lengthAdjust="spacingAndGlyphs">8</text>
<text x="1969.5" y="3891" font-family="'Liberation Sans', Arial, sans-serif" font-size="34" font-weight="bold" font-style="normal" text-anchor="middle" fill="#4a4a4a" textLength="49" lengthAdjust="spacingAndGlyphs">12</text>
<text x="2150.9" y="3891" font-family="'Liberation Sans', Arial, sans-serif" font-size="34" font-weight="bold" font-style="normal" text-anchor="middle" fill="#4a4a4a" textLength="49" lengthAdjust="spacingAndGlyphs">16</text>
<text x="2332.3" y="3891" font-family="'Liberation Sans', Arial, sans-serif" font-size="34" font-weight="bold" font-style="normal" text-anchor="middle" fill="#4a4a4a" textLength="49" lengthAdjust="spacingAndGlyphs">20</text>
<line x1="1424.5" y1="3048" x2="1424.5" y2="3857.5" stroke="#000" stroke-width="7.5"/>
<line x1="2331.5" y1="3048" x2="2331.5" y2="3857.5" stroke="#000" stroke-width="7.5"/>
<line x1="1420.8" y1="3051" x2="2335.2" y2="3051" stroke="#000" stroke-width="6"/>
<line x1="1420.8" y1="3454" x2="2335.2" y2="3454" stroke="#000" stroke-width="6"/>
<line x1="1420.8" y1="3854.5" x2="2335.2" y2="3854.5" stroke="#000" stroke-width="6"/>
<text transform="translate(1274 3282) rotate(-90)" x="0" y="0" font-family="'Liberation Serif', 'Times New Roman', serif" font-size="70" font-weight="normal" font-style="italic" text-anchor="middle" fill="#111" stroke="#111" stroke-width="1" textLength="354.5" lengthAdjust="spacingAndGlyphs">Cumulative Counts</text>
<text transform="translate(1299 3681.5) rotate(-90)" x="0" y="0" font-family="'Liberation Serif', 'Times New Roman', serif" font-size="62" font-weight="normal" font-style="italic" text-anchor="middle" fill="#111" stroke="#111" stroke-width="1" textLength="131" lengthAdjust="spacingAndGlyphs">Counts</text>
<text transform="translate(1584 3946) scale(1.3 1)" x="0" y="0" font-family="'Liberation Serif', 'Times New Roman', serif" font-size="44" font-weight="bold" font-style="italic" fill="#222" textLength="446.9" lengthAdjust="spacing">Spore diameter (μm)</text>
<text x="1467" y="3126" font-family="'Liberation Serif', 'Times New Roman', serif" font-size="78" font-weight="bold" font-style="normal" text-anchor="start" fill="#000" textLength="227" lengthAdjust="spacingAndGlyphs">(viii)</text>
<text x="1138" y="4073" font-family="'Liberation Serif', 'Times New Roman', serif" font-size="88" fill="#000" textLength="87" lengthAdjust="spacingAndGlyphs">(<tspan font-weight="bold">a</tspan>)</text></svg>
</body></html>
